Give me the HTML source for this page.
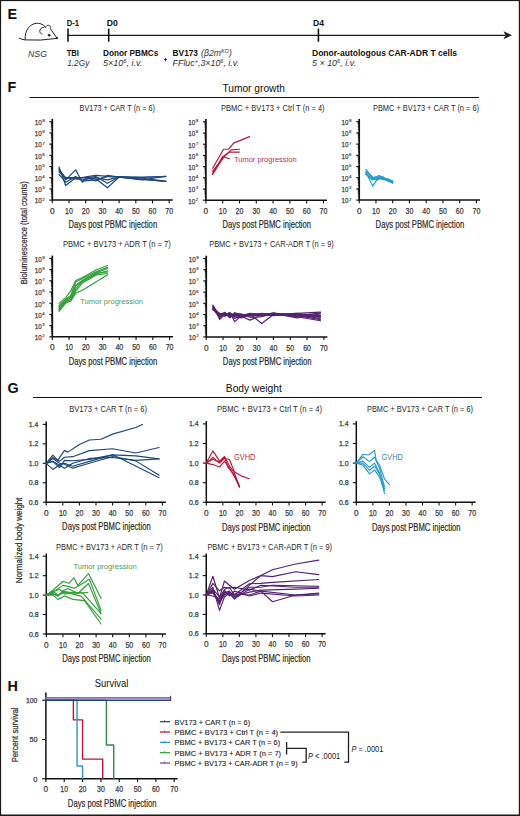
<!DOCTYPE html>
<html><head><meta charset="utf-8"><style>
html,body{margin:0;padding:0;background:#fff;width:520px;height:816px;overflow:hidden}
svg{display:block}
text{font-family:"Liberation Sans", sans-serif}
.tk{stroke:#3a3a3a;stroke-width:0.25px}
.at{stroke:#2a2a2a;stroke-width:0.2px}
.tk2{stroke:#3a3a3a;stroke-width:0.15px}
.lg{stroke:#222;stroke-width:0.12px}
</style></head><body>
<svg width="520" height="816" viewBox="0 0 520 816">
<rect width="520" height="816" fill="#fff"/>
<rect x="0" y="0" width="520" height="1.1" fill="#1a1a1a"/><rect x="0" y="0" width="1.1" height="816" fill="#1a1a1a"/><rect x="518.8" y="0" width="1.2" height="816" fill="#1a1a1a"/><rect x="0" y="814.5" width="520" height="1.5" fill="#1a1a1a"/>
<text x="7.60" y="18.90" font-size="14.4" font-weight="bold" fill="#111">E</text>
<g fill="none" stroke="#222" stroke-width="1" stroke-linecap="round" stroke-linejoin="round"><path d="M19.3,38.2 Q22,39.6 25,39.9 Q40,41 56.8,38.4"/><path d="M25.2,39.3 C24.5,31 29.5,24 36.2,23.3 C39.5,23 42.5,24 45,26.5"/><path d="M44,27.2 C41,27.3 39.6,29.5 39.8,31.5 C40,33 41,33.8 42,34"/><path d="M45.6,27.6 C46,25.8 47.5,25 48.6,25.3 C50,25.6 50.6,27 50.3,28.6 L56.8,37.8"/></g><circle cx="49.1" cy="35.3" r="1.3" fill="#222"/><circle cx="56.9" cy="38.1" r="1.15" fill="#222"/>
<text x="28.00" y="57.20" font-size="9.2" font-style="italic" fill="#333" textLength="19" lengthAdjust="spacingAndGlyphs">NSG</text>
<line x1="68.00" y1="35.30" x2="505.00" y2="35.30" stroke="#1a1a1a" stroke-width="1.35"/>
<path d="M503.5,31.2 L512,35.2 L503.5,39.2 L505.5,35.2 Z" fill="#222"/>
<line x1="68.00" y1="28.60" x2="68.00" y2="41.70" stroke="#111" stroke-width="1.6"/>
<line x1="108.70" y1="28.60" x2="108.70" y2="41.70" stroke="#111" stroke-width="1.6"/>
<line x1="318.40" y1="28.60" x2="318.40" y2="41.70" stroke="#111" stroke-width="1.6"/>
<text x="66.70" y="26.30" font-size="8.3" font-weight="bold" fill="#111" textLength="12.3" lengthAdjust="spacingAndGlyphs">D-1</text>
<text x="106.70" y="26.30" font-size="8.3" font-weight="bold" fill="#111" textLength="11" lengthAdjust="spacingAndGlyphs">D0</text>
<text x="313.00" y="26.30" font-size="8.3" font-weight="bold" fill="#111" textLength="11" lengthAdjust="spacingAndGlyphs">D4</text>
<text x="66.70" y="55.80" font-size="8.3" font-weight="bold" fill="#111" textLength="12.3" lengthAdjust="spacingAndGlyphs">TBI</text>
<text x="67.20" y="66.30" font-size="8.6" font-style="italic" fill="#333" textLength="22.2" lengthAdjust="spacingAndGlyphs">1.2Gy</text>
<text x="103.00" y="56.00" font-size="8.3" font-weight="bold" fill="#111" textLength="55.4" lengthAdjust="spacingAndGlyphs">Donor PBMCs</text>
<text x="103.00" y="66.40" font-size="8.6" font-style="italic" fill="#333" textLength="39.4" lengthAdjust="spacingAndGlyphs">5×10<tspan font-size="5.5" dy="-3">6</tspan><tspan dy="3">, i.v.</tspan></text>
<path d="M163.9,59.6 H167.1 M165.5,58 V61.2" stroke="#222" stroke-width="0.9"/>
<text x="172.60" y="56.00" font-size="8.3" font-weight="bold" fill="#111" textLength="25.4" lengthAdjust="spacingAndGlyphs">BV173</text>
<text x="201.00" y="56.00" font-size="8.6" font-style="italic" fill="#333" textLength="31" lengthAdjust="spacingAndGlyphs">(β2m<tspan font-size="5.5" dy="-3">KO</tspan><tspan dy="3">)</tspan></text>
<text x="172.60" y="66.40" font-size="8.6" font-style="italic" fill="#333" textLength="66.4" lengthAdjust="spacingAndGlyphs">FFluc<tspan font-size="5.5" dy="-3">+</tspan><tspan dy="3">,3×10</tspan><tspan font-size="5.5" dy="-3">6</tspan><tspan dy="3">, i.v.</tspan></text>
<text x="312.00" y="56.00" font-size="8.3" font-weight="bold" fill="#111" textLength="145" lengthAdjust="spacingAndGlyphs">Donor-autologous CAR-ADR T cells</text>
<text x="312.00" y="66.40" font-size="8.6" font-style="italic" fill="#333" textLength="44" lengthAdjust="spacingAndGlyphs">5 × 10<tspan font-size="5.5" dy="-3">6</tspan><tspan dy="3">, i.v.</tspan></text>
<text x="7.60" y="91.50" font-size="14.4" font-weight="bold" fill="#111">F</text>
<text x="222.40" y="91.60" font-size="10.6" fill="#111" textLength="62.6" lengthAdjust="spacingAndGlyphs">Tumor growth</text>
<line x1="29.50" y1="97.50" x2="479.00" y2="97.50" stroke="#111" stroke-width="1.2"/>
<text x="7.60" y="392.80" font-size="14.4" font-weight="bold" fill="#111">G</text>
<text x="225.80" y="392.00" font-size="10.6" fill="#111" textLength="56" lengthAdjust="spacingAndGlyphs">Body weight</text>
<line x1="32.90" y1="397.50" x2="482.00" y2="397.50" stroke="#111" stroke-width="1.2"/>
<text x="7.60" y="690.80" font-size="14.4" font-weight="bold" fill="#111">H</text>
<text x="94.80" y="686.60" font-size="10.6" fill="#111" textLength="33.6" lengthAdjust="spacingAndGlyphs">Survival</text>
<line x1="52.30" y1="118.90" x2="52.30" y2="200.60" stroke="#111" stroke-width="1.7"/>
<line x1="50.90" y1="196.73" x2="52.30" y2="196.73" stroke="#111" stroke-width="0.7"/>
<line x1="50.90" y1="194.76" x2="52.30" y2="194.76" stroke="#111" stroke-width="0.7"/>
<line x1="50.90" y1="193.36" x2="52.30" y2="193.36" stroke="#111" stroke-width="0.7"/>
<line x1="50.90" y1="192.27" x2="52.30" y2="192.27" stroke="#111" stroke-width="0.7"/>
<line x1="50.90" y1="191.38" x2="52.30" y2="191.38" stroke="#111" stroke-width="0.7"/>
<line x1="50.90" y1="190.63" x2="52.30" y2="190.63" stroke="#111" stroke-width="0.7"/>
<line x1="50.90" y1="189.99" x2="52.30" y2="189.99" stroke="#111" stroke-width="0.7"/>
<line x1="50.90" y1="189.41" x2="52.30" y2="189.41" stroke="#111" stroke-width="0.7"/>
<line x1="50.90" y1="185.53" x2="52.30" y2="185.53" stroke="#111" stroke-width="0.7"/>
<line x1="50.90" y1="183.56" x2="52.30" y2="183.56" stroke="#111" stroke-width="0.7"/>
<line x1="50.90" y1="182.16" x2="52.30" y2="182.16" stroke="#111" stroke-width="0.7"/>
<line x1="50.90" y1="181.07" x2="52.30" y2="181.07" stroke="#111" stroke-width="0.7"/>
<line x1="50.90" y1="180.18" x2="52.30" y2="180.18" stroke="#111" stroke-width="0.7"/>
<line x1="50.90" y1="179.43" x2="52.30" y2="179.43" stroke="#111" stroke-width="0.7"/>
<line x1="50.90" y1="178.79" x2="52.30" y2="178.79" stroke="#111" stroke-width="0.7"/>
<line x1="50.90" y1="178.21" x2="52.30" y2="178.21" stroke="#111" stroke-width="0.7"/>
<line x1="50.90" y1="174.33" x2="52.30" y2="174.33" stroke="#111" stroke-width="0.7"/>
<line x1="50.90" y1="172.36" x2="52.30" y2="172.36" stroke="#111" stroke-width="0.7"/>
<line x1="50.90" y1="170.96" x2="52.30" y2="170.96" stroke="#111" stroke-width="0.7"/>
<line x1="50.90" y1="169.87" x2="52.30" y2="169.87" stroke="#111" stroke-width="0.7"/>
<line x1="50.90" y1="168.98" x2="52.30" y2="168.98" stroke="#111" stroke-width="0.7"/>
<line x1="50.90" y1="168.23" x2="52.30" y2="168.23" stroke="#111" stroke-width="0.7"/>
<line x1="50.90" y1="167.59" x2="52.30" y2="167.59" stroke="#111" stroke-width="0.7"/>
<line x1="50.90" y1="167.01" x2="52.30" y2="167.01" stroke="#111" stroke-width="0.7"/>
<line x1="50.90" y1="163.13" x2="52.30" y2="163.13" stroke="#111" stroke-width="0.7"/>
<line x1="50.90" y1="161.16" x2="52.30" y2="161.16" stroke="#111" stroke-width="0.7"/>
<line x1="50.90" y1="159.76" x2="52.30" y2="159.76" stroke="#111" stroke-width="0.7"/>
<line x1="50.90" y1="158.67" x2="52.30" y2="158.67" stroke="#111" stroke-width="0.7"/>
<line x1="50.90" y1="157.78" x2="52.30" y2="157.78" stroke="#111" stroke-width="0.7"/>
<line x1="50.90" y1="157.03" x2="52.30" y2="157.03" stroke="#111" stroke-width="0.7"/>
<line x1="50.90" y1="156.39" x2="52.30" y2="156.39" stroke="#111" stroke-width="0.7"/>
<line x1="50.90" y1="155.81" x2="52.30" y2="155.81" stroke="#111" stroke-width="0.7"/>
<line x1="50.90" y1="151.93" x2="52.30" y2="151.93" stroke="#111" stroke-width="0.7"/>
<line x1="50.90" y1="149.96" x2="52.30" y2="149.96" stroke="#111" stroke-width="0.7"/>
<line x1="50.90" y1="148.56" x2="52.30" y2="148.56" stroke="#111" stroke-width="0.7"/>
<line x1="50.90" y1="147.47" x2="52.30" y2="147.47" stroke="#111" stroke-width="0.7"/>
<line x1="50.90" y1="146.58" x2="52.30" y2="146.58" stroke="#111" stroke-width="0.7"/>
<line x1="50.90" y1="145.83" x2="52.30" y2="145.83" stroke="#111" stroke-width="0.7"/>
<line x1="50.90" y1="145.19" x2="52.30" y2="145.19" stroke="#111" stroke-width="0.7"/>
<line x1="50.90" y1="144.61" x2="52.30" y2="144.61" stroke="#111" stroke-width="0.7"/>
<line x1="50.90" y1="140.73" x2="52.30" y2="140.73" stroke="#111" stroke-width="0.7"/>
<line x1="50.90" y1="138.76" x2="52.30" y2="138.76" stroke="#111" stroke-width="0.7"/>
<line x1="50.90" y1="137.36" x2="52.30" y2="137.36" stroke="#111" stroke-width="0.7"/>
<line x1="50.90" y1="136.27" x2="52.30" y2="136.27" stroke="#111" stroke-width="0.7"/>
<line x1="50.90" y1="135.38" x2="52.30" y2="135.38" stroke="#111" stroke-width="0.7"/>
<line x1="50.90" y1="134.63" x2="52.30" y2="134.63" stroke="#111" stroke-width="0.7"/>
<line x1="50.90" y1="133.99" x2="52.30" y2="133.99" stroke="#111" stroke-width="0.7"/>
<line x1="50.90" y1="133.41" x2="52.30" y2="133.41" stroke="#111" stroke-width="0.7"/>
<line x1="50.90" y1="129.53" x2="52.30" y2="129.53" stroke="#111" stroke-width="0.7"/>
<line x1="50.90" y1="127.56" x2="52.30" y2="127.56" stroke="#111" stroke-width="0.7"/>
<line x1="50.90" y1="126.16" x2="52.30" y2="126.16" stroke="#111" stroke-width="0.7"/>
<line x1="50.90" y1="125.07" x2="52.30" y2="125.07" stroke="#111" stroke-width="0.7"/>
<line x1="50.90" y1="124.18" x2="52.30" y2="124.18" stroke="#111" stroke-width="0.7"/>
<line x1="50.90" y1="123.43" x2="52.30" y2="123.43" stroke="#111" stroke-width="0.7"/>
<line x1="50.90" y1="122.79" x2="52.30" y2="122.79" stroke="#111" stroke-width="0.7"/>
<line x1="50.90" y1="122.21" x2="52.30" y2="122.21" stroke="#111" stroke-width="0.7"/>
<line x1="49.30" y1="200.10" x2="52.30" y2="200.10" stroke="#111" stroke-width="1.1"/>
<text x="34.70" y="203.40" font-size="7.8" fill="#3a3a3a" textLength="7.0" lengthAdjust="spacingAndGlyphs" class="tk">10</text>
<text x="42.20" y="200.50" font-size="4.4" fill="#3a3a3a" class="tk2">2</text>
<line x1="49.30" y1="188.90" x2="52.30" y2="188.90" stroke="#111" stroke-width="1.1"/>
<text x="34.70" y="192.20" font-size="7.8" fill="#3a3a3a" textLength="7.0" lengthAdjust="spacingAndGlyphs" class="tk">10</text>
<text x="42.20" y="189.30" font-size="4.4" fill="#3a3a3a" class="tk2">3</text>
<line x1="49.30" y1="177.70" x2="52.30" y2="177.70" stroke="#111" stroke-width="1.1"/>
<text x="34.70" y="181.00" font-size="7.8" fill="#3a3a3a" textLength="7.0" lengthAdjust="spacingAndGlyphs" class="tk">10</text>
<text x="42.20" y="178.10" font-size="4.4" fill="#3a3a3a" class="tk2">4</text>
<line x1="49.30" y1="166.50" x2="52.30" y2="166.50" stroke="#111" stroke-width="1.1"/>
<text x="34.70" y="169.80" font-size="7.8" fill="#3a3a3a" textLength="7.0" lengthAdjust="spacingAndGlyphs" class="tk">10</text>
<text x="42.20" y="166.90" font-size="4.4" fill="#3a3a3a" class="tk2">5</text>
<line x1="49.30" y1="155.30" x2="52.30" y2="155.30" stroke="#111" stroke-width="1.1"/>
<text x="34.70" y="158.60" font-size="7.8" fill="#3a3a3a" textLength="7.0" lengthAdjust="spacingAndGlyphs" class="tk">10</text>
<text x="42.20" y="155.70" font-size="4.4" fill="#3a3a3a" class="tk2">6</text>
<line x1="49.30" y1="144.10" x2="52.30" y2="144.10" stroke="#111" stroke-width="1.1"/>
<text x="34.70" y="147.40" font-size="7.8" fill="#3a3a3a" textLength="7.0" lengthAdjust="spacingAndGlyphs" class="tk">10</text>
<text x="42.20" y="144.50" font-size="4.4" fill="#3a3a3a" class="tk2">7</text>
<line x1="49.30" y1="132.90" x2="52.30" y2="132.90" stroke="#111" stroke-width="1.1"/>
<text x="34.70" y="136.20" font-size="7.8" fill="#3a3a3a" textLength="7.0" lengthAdjust="spacingAndGlyphs" class="tk">10</text>
<text x="42.20" y="133.30" font-size="4.4" fill="#3a3a3a" class="tk2">8</text>
<line x1="49.30" y1="121.70" x2="52.30" y2="121.70" stroke="#111" stroke-width="1.1"/>
<text x="34.70" y="125.00" font-size="7.8" fill="#3a3a3a" textLength="7.0" lengthAdjust="spacingAndGlyphs" class="tk">10</text>
<text x="42.20" y="122.10" font-size="4.4" fill="#3a3a3a" class="tk2">9</text>
<line x1="51.80" y1="200.10" x2="172.70" y2="200.10" stroke="#111" stroke-width="1.5"/>
<line x1="52.30" y1="200.10" x2="52.30" y2="203.30" stroke="#111" stroke-width="1.1"/>
<text x="52.30" y="213.70" font-size="8.8" text-anchor="middle" fill="#3a3a3a" textLength="4.6" lengthAdjust="spacingAndGlyphs" class="tk">0</text>
<line x1="69.00" y1="200.10" x2="69.00" y2="203.30" stroke="#111" stroke-width="1.1"/>
<text x="69.00" y="213.70" font-size="8.8" text-anchor="middle" fill="#3a3a3a" textLength="7.8" lengthAdjust="spacingAndGlyphs" class="tk">10</text>
<line x1="85.70" y1="200.10" x2="85.70" y2="203.30" stroke="#111" stroke-width="1.1"/>
<text x="85.70" y="213.70" font-size="8.8" text-anchor="middle" fill="#3a3a3a" textLength="7.8" lengthAdjust="spacingAndGlyphs" class="tk">20</text>
<line x1="102.40" y1="200.10" x2="102.40" y2="203.30" stroke="#111" stroke-width="1.1"/>
<text x="102.40" y="213.70" font-size="8.8" text-anchor="middle" fill="#3a3a3a" textLength="7.8" lengthAdjust="spacingAndGlyphs" class="tk">30</text>
<line x1="119.10" y1="200.10" x2="119.10" y2="203.30" stroke="#111" stroke-width="1.1"/>
<text x="119.10" y="213.70" font-size="8.8" text-anchor="middle" fill="#3a3a3a" textLength="7.8" lengthAdjust="spacingAndGlyphs" class="tk">40</text>
<line x1="135.80" y1="200.10" x2="135.80" y2="203.30" stroke="#111" stroke-width="1.1"/>
<text x="135.80" y="213.70" font-size="8.8" text-anchor="middle" fill="#3a3a3a" textLength="7.8" lengthAdjust="spacingAndGlyphs" class="tk">50</text>
<line x1="152.50" y1="200.10" x2="152.50" y2="203.30" stroke="#111" stroke-width="1.1"/>
<text x="152.50" y="213.70" font-size="8.8" text-anchor="middle" fill="#3a3a3a" textLength="7.8" lengthAdjust="spacingAndGlyphs" class="tk">60</text>
<line x1="169.20" y1="200.10" x2="169.20" y2="203.30" stroke="#111" stroke-width="1.1"/>
<text x="169.20" y="213.70" font-size="8.8" text-anchor="middle" fill="#3a3a3a" textLength="7.8" lengthAdjust="spacingAndGlyphs" class="tk">70</text>
<text x="68.55" y="228.30" font-size="10.7" fill="#2a2a2a" textLength="88.6" lengthAdjust="spacingAndGlyphs" class="at">Days post PBMC injection</text>
<text x="79.60" y="110.50" font-size="8.3" fill="#2a2a2a" textLength="75.4" lengthAdjust="spacingAndGlyphs">BV173 + CAR T (n = 6)</text>
<polyline points="58.98,167.06 65.66,185.54 75.68,177.70 82.36,177.70 95.72,178.82 107.41,187.78 119.10,177.14 142.48,179.94 165.86,176.24" fill="none" stroke="#1f477a" stroke-width="1.2" stroke-linejoin="round" stroke-linecap="round"/>
<polyline points="58.98,168.74 65.66,179.94 75.68,169.86 82.36,182.18 87.37,177.70 95.72,181.06 107.41,175.46 119.10,177.14 165.86,181.51" fill="none" stroke="#1f477a" stroke-width="1.2" stroke-linejoin="round" stroke-linecap="round"/>
<polyline points="58.98,172.10 65.66,177.70 75.68,177.70 87.37,177.70 95.72,176.58 107.41,183.30 119.10,176.92 142.48,179.38 165.86,181.51" fill="none" stroke="#1f477a" stroke-width="1.2" stroke-linejoin="round" stroke-linecap="round"/>
<polyline points="58.98,170.98 65.66,178.82 70.67,177.70 82.36,179.94 95.72,177.70 107.41,179.94 119.10,176.92 142.48,177.48 165.86,176.24" fill="none" stroke="#1f477a" stroke-width="1.2" stroke-linejoin="round" stroke-linecap="round"/>
<polyline points="58.98,174.34 65.66,182.18 75.68,176.58 82.36,181.06 95.72,179.94 107.41,176.58 119.10,176.58 142.48,178.26 165.86,181.06" fill="none" stroke="#1f477a" stroke-width="1.2" stroke-linejoin="round" stroke-linecap="round"/>
<polyline points="58.98,169.86 65.66,177.70 75.68,178.82 87.37,176.58 95.72,175.46 119.10,177.14 142.48,177.14 165.86,176.58" fill="none" stroke="#1f477a" stroke-width="1.2" stroke-linejoin="round" stroke-linecap="round"/>
<line x1="205.90" y1="119.00" x2="205.90" y2="200.70" stroke="#111" stroke-width="1.7"/>
<line x1="204.50" y1="196.83" x2="205.90" y2="196.83" stroke="#111" stroke-width="0.7"/>
<line x1="204.50" y1="194.86" x2="205.90" y2="194.86" stroke="#111" stroke-width="0.7"/>
<line x1="204.50" y1="193.46" x2="205.90" y2="193.46" stroke="#111" stroke-width="0.7"/>
<line x1="204.50" y1="192.37" x2="205.90" y2="192.37" stroke="#111" stroke-width="0.7"/>
<line x1="204.50" y1="191.48" x2="205.90" y2="191.48" stroke="#111" stroke-width="0.7"/>
<line x1="204.50" y1="190.73" x2="205.90" y2="190.73" stroke="#111" stroke-width="0.7"/>
<line x1="204.50" y1="190.09" x2="205.90" y2="190.09" stroke="#111" stroke-width="0.7"/>
<line x1="204.50" y1="189.51" x2="205.90" y2="189.51" stroke="#111" stroke-width="0.7"/>
<line x1="204.50" y1="185.63" x2="205.90" y2="185.63" stroke="#111" stroke-width="0.7"/>
<line x1="204.50" y1="183.66" x2="205.90" y2="183.66" stroke="#111" stroke-width="0.7"/>
<line x1="204.50" y1="182.26" x2="205.90" y2="182.26" stroke="#111" stroke-width="0.7"/>
<line x1="204.50" y1="181.17" x2="205.90" y2="181.17" stroke="#111" stroke-width="0.7"/>
<line x1="204.50" y1="180.28" x2="205.90" y2="180.28" stroke="#111" stroke-width="0.7"/>
<line x1="204.50" y1="179.53" x2="205.90" y2="179.53" stroke="#111" stroke-width="0.7"/>
<line x1="204.50" y1="178.89" x2="205.90" y2="178.89" stroke="#111" stroke-width="0.7"/>
<line x1="204.50" y1="178.31" x2="205.90" y2="178.31" stroke="#111" stroke-width="0.7"/>
<line x1="204.50" y1="174.43" x2="205.90" y2="174.43" stroke="#111" stroke-width="0.7"/>
<line x1="204.50" y1="172.46" x2="205.90" y2="172.46" stroke="#111" stroke-width="0.7"/>
<line x1="204.50" y1="171.06" x2="205.90" y2="171.06" stroke="#111" stroke-width="0.7"/>
<line x1="204.50" y1="169.97" x2="205.90" y2="169.97" stroke="#111" stroke-width="0.7"/>
<line x1="204.50" y1="169.08" x2="205.90" y2="169.08" stroke="#111" stroke-width="0.7"/>
<line x1="204.50" y1="168.33" x2="205.90" y2="168.33" stroke="#111" stroke-width="0.7"/>
<line x1="204.50" y1="167.69" x2="205.90" y2="167.69" stroke="#111" stroke-width="0.7"/>
<line x1="204.50" y1="167.11" x2="205.90" y2="167.11" stroke="#111" stroke-width="0.7"/>
<line x1="204.50" y1="163.23" x2="205.90" y2="163.23" stroke="#111" stroke-width="0.7"/>
<line x1="204.50" y1="161.26" x2="205.90" y2="161.26" stroke="#111" stroke-width="0.7"/>
<line x1="204.50" y1="159.86" x2="205.90" y2="159.86" stroke="#111" stroke-width="0.7"/>
<line x1="204.50" y1="158.77" x2="205.90" y2="158.77" stroke="#111" stroke-width="0.7"/>
<line x1="204.50" y1="157.88" x2="205.90" y2="157.88" stroke="#111" stroke-width="0.7"/>
<line x1="204.50" y1="157.13" x2="205.90" y2="157.13" stroke="#111" stroke-width="0.7"/>
<line x1="204.50" y1="156.49" x2="205.90" y2="156.49" stroke="#111" stroke-width="0.7"/>
<line x1="204.50" y1="155.91" x2="205.90" y2="155.91" stroke="#111" stroke-width="0.7"/>
<line x1="204.50" y1="152.03" x2="205.90" y2="152.03" stroke="#111" stroke-width="0.7"/>
<line x1="204.50" y1="150.06" x2="205.90" y2="150.06" stroke="#111" stroke-width="0.7"/>
<line x1="204.50" y1="148.66" x2="205.90" y2="148.66" stroke="#111" stroke-width="0.7"/>
<line x1="204.50" y1="147.57" x2="205.90" y2="147.57" stroke="#111" stroke-width="0.7"/>
<line x1="204.50" y1="146.68" x2="205.90" y2="146.68" stroke="#111" stroke-width="0.7"/>
<line x1="204.50" y1="145.93" x2="205.90" y2="145.93" stroke="#111" stroke-width="0.7"/>
<line x1="204.50" y1="145.29" x2="205.90" y2="145.29" stroke="#111" stroke-width="0.7"/>
<line x1="204.50" y1="144.71" x2="205.90" y2="144.71" stroke="#111" stroke-width="0.7"/>
<line x1="204.50" y1="140.83" x2="205.90" y2="140.83" stroke="#111" stroke-width="0.7"/>
<line x1="204.50" y1="138.86" x2="205.90" y2="138.86" stroke="#111" stroke-width="0.7"/>
<line x1="204.50" y1="137.46" x2="205.90" y2="137.46" stroke="#111" stroke-width="0.7"/>
<line x1="204.50" y1="136.37" x2="205.90" y2="136.37" stroke="#111" stroke-width="0.7"/>
<line x1="204.50" y1="135.48" x2="205.90" y2="135.48" stroke="#111" stroke-width="0.7"/>
<line x1="204.50" y1="134.73" x2="205.90" y2="134.73" stroke="#111" stroke-width="0.7"/>
<line x1="204.50" y1="134.09" x2="205.90" y2="134.09" stroke="#111" stroke-width="0.7"/>
<line x1="204.50" y1="133.51" x2="205.90" y2="133.51" stroke="#111" stroke-width="0.7"/>
<line x1="204.50" y1="129.63" x2="205.90" y2="129.63" stroke="#111" stroke-width="0.7"/>
<line x1="204.50" y1="127.66" x2="205.90" y2="127.66" stroke="#111" stroke-width="0.7"/>
<line x1="204.50" y1="126.26" x2="205.90" y2="126.26" stroke="#111" stroke-width="0.7"/>
<line x1="204.50" y1="125.17" x2="205.90" y2="125.17" stroke="#111" stroke-width="0.7"/>
<line x1="204.50" y1="124.28" x2="205.90" y2="124.28" stroke="#111" stroke-width="0.7"/>
<line x1="204.50" y1="123.53" x2="205.90" y2="123.53" stroke="#111" stroke-width="0.7"/>
<line x1="204.50" y1="122.89" x2="205.90" y2="122.89" stroke="#111" stroke-width="0.7"/>
<line x1="204.50" y1="122.31" x2="205.90" y2="122.31" stroke="#111" stroke-width="0.7"/>
<line x1="202.90" y1="200.20" x2="205.90" y2="200.20" stroke="#111" stroke-width="1.1"/>
<text x="188.30" y="203.50" font-size="7.8" fill="#3a3a3a" textLength="7.0" lengthAdjust="spacingAndGlyphs" class="tk">10</text>
<text x="195.80" y="200.60" font-size="4.4" fill="#3a3a3a" class="tk2">2</text>
<line x1="202.90" y1="189.00" x2="205.90" y2="189.00" stroke="#111" stroke-width="1.1"/>
<text x="188.30" y="192.30" font-size="7.8" fill="#3a3a3a" textLength="7.0" lengthAdjust="spacingAndGlyphs" class="tk">10</text>
<text x="195.80" y="189.40" font-size="4.4" fill="#3a3a3a" class="tk2">3</text>
<line x1="202.90" y1="177.80" x2="205.90" y2="177.80" stroke="#111" stroke-width="1.1"/>
<text x="188.30" y="181.10" font-size="7.8" fill="#3a3a3a" textLength="7.0" lengthAdjust="spacingAndGlyphs" class="tk">10</text>
<text x="195.80" y="178.20" font-size="4.4" fill="#3a3a3a" class="tk2">4</text>
<line x1="202.90" y1="166.60" x2="205.90" y2="166.60" stroke="#111" stroke-width="1.1"/>
<text x="188.30" y="169.90" font-size="7.8" fill="#3a3a3a" textLength="7.0" lengthAdjust="spacingAndGlyphs" class="tk">10</text>
<text x="195.80" y="167.00" font-size="4.4" fill="#3a3a3a" class="tk2">5</text>
<line x1="202.90" y1="155.40" x2="205.90" y2="155.40" stroke="#111" stroke-width="1.1"/>
<text x="188.30" y="158.70" font-size="7.8" fill="#3a3a3a" textLength="7.0" lengthAdjust="spacingAndGlyphs" class="tk">10</text>
<text x="195.80" y="155.80" font-size="4.4" fill="#3a3a3a" class="tk2">6</text>
<line x1="202.90" y1="144.20" x2="205.90" y2="144.20" stroke="#111" stroke-width="1.1"/>
<text x="188.30" y="147.50" font-size="7.8" fill="#3a3a3a" textLength="7.0" lengthAdjust="spacingAndGlyphs" class="tk">10</text>
<text x="195.80" y="144.60" font-size="4.4" fill="#3a3a3a" class="tk2">7</text>
<line x1="202.90" y1="133.00" x2="205.90" y2="133.00" stroke="#111" stroke-width="1.1"/>
<text x="188.30" y="136.30" font-size="7.8" fill="#3a3a3a" textLength="7.0" lengthAdjust="spacingAndGlyphs" class="tk">10</text>
<text x="195.80" y="133.40" font-size="4.4" fill="#3a3a3a" class="tk2">8</text>
<line x1="202.90" y1="121.80" x2="205.90" y2="121.80" stroke="#111" stroke-width="1.1"/>
<text x="188.30" y="125.10" font-size="7.8" fill="#3a3a3a" textLength="7.0" lengthAdjust="spacingAndGlyphs" class="tk">10</text>
<text x="195.80" y="122.20" font-size="4.4" fill="#3a3a3a" class="tk2">9</text>
<line x1="205.40" y1="200.20" x2="327.00" y2="200.20" stroke="#111" stroke-width="1.5"/>
<line x1="205.90" y1="200.20" x2="205.90" y2="203.40" stroke="#111" stroke-width="1.1"/>
<text x="205.90" y="213.80" font-size="8.8" text-anchor="middle" fill="#3a3a3a" textLength="4.6" lengthAdjust="spacingAndGlyphs" class="tk">0</text>
<line x1="222.70" y1="200.20" x2="222.70" y2="203.40" stroke="#111" stroke-width="1.1"/>
<text x="222.70" y="213.80" font-size="8.8" text-anchor="middle" fill="#3a3a3a" textLength="7.8" lengthAdjust="spacingAndGlyphs" class="tk">10</text>
<line x1="239.50" y1="200.20" x2="239.50" y2="203.40" stroke="#111" stroke-width="1.1"/>
<text x="239.50" y="213.80" font-size="8.8" text-anchor="middle" fill="#3a3a3a" textLength="7.8" lengthAdjust="spacingAndGlyphs" class="tk">20</text>
<line x1="256.30" y1="200.20" x2="256.30" y2="203.40" stroke="#111" stroke-width="1.1"/>
<text x="256.30" y="213.80" font-size="8.8" text-anchor="middle" fill="#3a3a3a" textLength="7.8" lengthAdjust="spacingAndGlyphs" class="tk">30</text>
<line x1="273.10" y1="200.20" x2="273.10" y2="203.40" stroke="#111" stroke-width="1.1"/>
<text x="273.10" y="213.80" font-size="8.8" text-anchor="middle" fill="#3a3a3a" textLength="7.8" lengthAdjust="spacingAndGlyphs" class="tk">40</text>
<line x1="289.90" y1="200.20" x2="289.90" y2="203.40" stroke="#111" stroke-width="1.1"/>
<text x="289.90" y="213.80" font-size="8.8" text-anchor="middle" fill="#3a3a3a" textLength="7.8" lengthAdjust="spacingAndGlyphs" class="tk">50</text>
<line x1="306.70" y1="200.20" x2="306.70" y2="203.40" stroke="#111" stroke-width="1.1"/>
<text x="306.70" y="213.80" font-size="8.8" text-anchor="middle" fill="#3a3a3a" textLength="7.8" lengthAdjust="spacingAndGlyphs" class="tk">60</text>
<line x1="323.50" y1="200.20" x2="323.50" y2="203.40" stroke="#111" stroke-width="1.1"/>
<text x="323.50" y="213.80" font-size="8.8" text-anchor="middle" fill="#3a3a3a" textLength="7.8" lengthAdjust="spacingAndGlyphs" class="tk">70</text>
<text x="222.50" y="228.40" font-size="10.7" fill="#2a2a2a" textLength="88.6" lengthAdjust="spacingAndGlyphs" class="at">Days post PBMC injection</text>
<text x="221.00" y="110.50" font-size="8.3" fill="#2a2a2a" textLength="103.6" lengthAdjust="spacingAndGlyphs">PBMC + BV173 + Ctrl T (n = 4)</text>
<polyline points="212.62,168.28 223.54,149.24 228.58,149.24 233.62,143.08 249.58,136.58" fill="none" stroke="#bb173e" stroke-width="1.2" stroke-linejoin="round" stroke-linecap="round"/>
<polyline points="212.62,171.08 224.38,156.52 231.10,149.80 239.50,149.24" fill="none" stroke="#bb173e" stroke-width="1.2" stroke-linejoin="round" stroke-linecap="round"/>
<polyline points="212.62,174.44 224.38,155.40 229.42,152.04 239.50,152.04" fill="none" stroke="#bb173e" stroke-width="1.2" stroke-linejoin="round" stroke-linecap="round"/>
<polyline points="212.62,173.32 222.70,156.52 229.42,158.76" fill="none" stroke="#bb173e" stroke-width="1.2" stroke-linejoin="round" stroke-linecap="round"/>
<text x="234.00" y="161.90" font-size="8.1" fill="#b82d4e" textLength="62.6" lengthAdjust="spacingAndGlyphs">Tumor progression</text>
<line x1="359.20" y1="118.90" x2="359.20" y2="200.60" stroke="#111" stroke-width="1.7"/>
<line x1="357.80" y1="196.73" x2="359.20" y2="196.73" stroke="#111" stroke-width="0.7"/>
<line x1="357.80" y1="194.76" x2="359.20" y2="194.76" stroke="#111" stroke-width="0.7"/>
<line x1="357.80" y1="193.36" x2="359.20" y2="193.36" stroke="#111" stroke-width="0.7"/>
<line x1="357.80" y1="192.27" x2="359.20" y2="192.27" stroke="#111" stroke-width="0.7"/>
<line x1="357.80" y1="191.38" x2="359.20" y2="191.38" stroke="#111" stroke-width="0.7"/>
<line x1="357.80" y1="190.63" x2="359.20" y2="190.63" stroke="#111" stroke-width="0.7"/>
<line x1="357.80" y1="189.99" x2="359.20" y2="189.99" stroke="#111" stroke-width="0.7"/>
<line x1="357.80" y1="189.41" x2="359.20" y2="189.41" stroke="#111" stroke-width="0.7"/>
<line x1="357.80" y1="185.53" x2="359.20" y2="185.53" stroke="#111" stroke-width="0.7"/>
<line x1="357.80" y1="183.56" x2="359.20" y2="183.56" stroke="#111" stroke-width="0.7"/>
<line x1="357.80" y1="182.16" x2="359.20" y2="182.16" stroke="#111" stroke-width="0.7"/>
<line x1="357.80" y1="181.07" x2="359.20" y2="181.07" stroke="#111" stroke-width="0.7"/>
<line x1="357.80" y1="180.18" x2="359.20" y2="180.18" stroke="#111" stroke-width="0.7"/>
<line x1="357.80" y1="179.43" x2="359.20" y2="179.43" stroke="#111" stroke-width="0.7"/>
<line x1="357.80" y1="178.79" x2="359.20" y2="178.79" stroke="#111" stroke-width="0.7"/>
<line x1="357.80" y1="178.21" x2="359.20" y2="178.21" stroke="#111" stroke-width="0.7"/>
<line x1="357.80" y1="174.33" x2="359.20" y2="174.33" stroke="#111" stroke-width="0.7"/>
<line x1="357.80" y1="172.36" x2="359.20" y2="172.36" stroke="#111" stroke-width="0.7"/>
<line x1="357.80" y1="170.96" x2="359.20" y2="170.96" stroke="#111" stroke-width="0.7"/>
<line x1="357.80" y1="169.87" x2="359.20" y2="169.87" stroke="#111" stroke-width="0.7"/>
<line x1="357.80" y1="168.98" x2="359.20" y2="168.98" stroke="#111" stroke-width="0.7"/>
<line x1="357.80" y1="168.23" x2="359.20" y2="168.23" stroke="#111" stroke-width="0.7"/>
<line x1="357.80" y1="167.59" x2="359.20" y2="167.59" stroke="#111" stroke-width="0.7"/>
<line x1="357.80" y1="167.01" x2="359.20" y2="167.01" stroke="#111" stroke-width="0.7"/>
<line x1="357.80" y1="163.13" x2="359.20" y2="163.13" stroke="#111" stroke-width="0.7"/>
<line x1="357.80" y1="161.16" x2="359.20" y2="161.16" stroke="#111" stroke-width="0.7"/>
<line x1="357.80" y1="159.76" x2="359.20" y2="159.76" stroke="#111" stroke-width="0.7"/>
<line x1="357.80" y1="158.67" x2="359.20" y2="158.67" stroke="#111" stroke-width="0.7"/>
<line x1="357.80" y1="157.78" x2="359.20" y2="157.78" stroke="#111" stroke-width="0.7"/>
<line x1="357.80" y1="157.03" x2="359.20" y2="157.03" stroke="#111" stroke-width="0.7"/>
<line x1="357.80" y1="156.39" x2="359.20" y2="156.39" stroke="#111" stroke-width="0.7"/>
<line x1="357.80" y1="155.81" x2="359.20" y2="155.81" stroke="#111" stroke-width="0.7"/>
<line x1="357.80" y1="151.93" x2="359.20" y2="151.93" stroke="#111" stroke-width="0.7"/>
<line x1="357.80" y1="149.96" x2="359.20" y2="149.96" stroke="#111" stroke-width="0.7"/>
<line x1="357.80" y1="148.56" x2="359.20" y2="148.56" stroke="#111" stroke-width="0.7"/>
<line x1="357.80" y1="147.47" x2="359.20" y2="147.47" stroke="#111" stroke-width="0.7"/>
<line x1="357.80" y1="146.58" x2="359.20" y2="146.58" stroke="#111" stroke-width="0.7"/>
<line x1="357.80" y1="145.83" x2="359.20" y2="145.83" stroke="#111" stroke-width="0.7"/>
<line x1="357.80" y1="145.19" x2="359.20" y2="145.19" stroke="#111" stroke-width="0.7"/>
<line x1="357.80" y1="144.61" x2="359.20" y2="144.61" stroke="#111" stroke-width="0.7"/>
<line x1="357.80" y1="140.73" x2="359.20" y2="140.73" stroke="#111" stroke-width="0.7"/>
<line x1="357.80" y1="138.76" x2="359.20" y2="138.76" stroke="#111" stroke-width="0.7"/>
<line x1="357.80" y1="137.36" x2="359.20" y2="137.36" stroke="#111" stroke-width="0.7"/>
<line x1="357.80" y1="136.27" x2="359.20" y2="136.27" stroke="#111" stroke-width="0.7"/>
<line x1="357.80" y1="135.38" x2="359.20" y2="135.38" stroke="#111" stroke-width="0.7"/>
<line x1="357.80" y1="134.63" x2="359.20" y2="134.63" stroke="#111" stroke-width="0.7"/>
<line x1="357.80" y1="133.99" x2="359.20" y2="133.99" stroke="#111" stroke-width="0.7"/>
<line x1="357.80" y1="133.41" x2="359.20" y2="133.41" stroke="#111" stroke-width="0.7"/>
<line x1="357.80" y1="129.53" x2="359.20" y2="129.53" stroke="#111" stroke-width="0.7"/>
<line x1="357.80" y1="127.56" x2="359.20" y2="127.56" stroke="#111" stroke-width="0.7"/>
<line x1="357.80" y1="126.16" x2="359.20" y2="126.16" stroke="#111" stroke-width="0.7"/>
<line x1="357.80" y1="125.07" x2="359.20" y2="125.07" stroke="#111" stroke-width="0.7"/>
<line x1="357.80" y1="124.18" x2="359.20" y2="124.18" stroke="#111" stroke-width="0.7"/>
<line x1="357.80" y1="123.43" x2="359.20" y2="123.43" stroke="#111" stroke-width="0.7"/>
<line x1="357.80" y1="122.79" x2="359.20" y2="122.79" stroke="#111" stroke-width="0.7"/>
<line x1="357.80" y1="122.21" x2="359.20" y2="122.21" stroke="#111" stroke-width="0.7"/>
<line x1="356.20" y1="200.10" x2="359.20" y2="200.10" stroke="#111" stroke-width="1.1"/>
<text x="341.60" y="203.40" font-size="7.8" fill="#3a3a3a" textLength="7.0" lengthAdjust="spacingAndGlyphs" class="tk">10</text>
<text x="349.10" y="200.50" font-size="4.4" fill="#3a3a3a" class="tk2">2</text>
<line x1="356.20" y1="188.90" x2="359.20" y2="188.90" stroke="#111" stroke-width="1.1"/>
<text x="341.60" y="192.20" font-size="7.8" fill="#3a3a3a" textLength="7.0" lengthAdjust="spacingAndGlyphs" class="tk">10</text>
<text x="349.10" y="189.30" font-size="4.4" fill="#3a3a3a" class="tk2">3</text>
<line x1="356.20" y1="177.70" x2="359.20" y2="177.70" stroke="#111" stroke-width="1.1"/>
<text x="341.60" y="181.00" font-size="7.8" fill="#3a3a3a" textLength="7.0" lengthAdjust="spacingAndGlyphs" class="tk">10</text>
<text x="349.10" y="178.10" font-size="4.4" fill="#3a3a3a" class="tk2">4</text>
<line x1="356.20" y1="166.50" x2="359.20" y2="166.50" stroke="#111" stroke-width="1.1"/>
<text x="341.60" y="169.80" font-size="7.8" fill="#3a3a3a" textLength="7.0" lengthAdjust="spacingAndGlyphs" class="tk">10</text>
<text x="349.10" y="166.90" font-size="4.4" fill="#3a3a3a" class="tk2">5</text>
<line x1="356.20" y1="155.30" x2="359.20" y2="155.30" stroke="#111" stroke-width="1.1"/>
<text x="341.60" y="158.60" font-size="7.8" fill="#3a3a3a" textLength="7.0" lengthAdjust="spacingAndGlyphs" class="tk">10</text>
<text x="349.10" y="155.70" font-size="4.4" fill="#3a3a3a" class="tk2">6</text>
<line x1="356.20" y1="144.10" x2="359.20" y2="144.10" stroke="#111" stroke-width="1.1"/>
<text x="341.60" y="147.40" font-size="7.8" fill="#3a3a3a" textLength="7.0" lengthAdjust="spacingAndGlyphs" class="tk">10</text>
<text x="349.10" y="144.50" font-size="4.4" fill="#3a3a3a" class="tk2">7</text>
<line x1="356.20" y1="132.90" x2="359.20" y2="132.90" stroke="#111" stroke-width="1.1"/>
<text x="341.60" y="136.20" font-size="7.8" fill="#3a3a3a" textLength="7.0" lengthAdjust="spacingAndGlyphs" class="tk">10</text>
<text x="349.10" y="133.30" font-size="4.4" fill="#3a3a3a" class="tk2">8</text>
<line x1="356.20" y1="121.70" x2="359.20" y2="121.70" stroke="#111" stroke-width="1.1"/>
<text x="341.60" y="125.00" font-size="7.8" fill="#3a3a3a" textLength="7.0" lengthAdjust="spacingAndGlyphs" class="tk">10</text>
<text x="349.10" y="122.10" font-size="4.4" fill="#3a3a3a" class="tk2">9</text>
<line x1="358.70" y1="200.10" x2="479.95" y2="200.10" stroke="#111" stroke-width="1.5"/>
<line x1="359.20" y1="200.10" x2="359.20" y2="203.30" stroke="#111" stroke-width="1.1"/>
<text x="359.20" y="213.70" font-size="8.8" text-anchor="middle" fill="#3a3a3a" textLength="4.6" lengthAdjust="spacingAndGlyphs" class="tk">0</text>
<line x1="375.95" y1="200.10" x2="375.95" y2="203.30" stroke="#111" stroke-width="1.1"/>
<text x="375.95" y="213.70" font-size="8.8" text-anchor="middle" fill="#3a3a3a" textLength="7.8" lengthAdjust="spacingAndGlyphs" class="tk">10</text>
<line x1="392.70" y1="200.10" x2="392.70" y2="203.30" stroke="#111" stroke-width="1.1"/>
<text x="392.70" y="213.70" font-size="8.8" text-anchor="middle" fill="#3a3a3a" textLength="7.8" lengthAdjust="spacingAndGlyphs" class="tk">20</text>
<line x1="409.45" y1="200.10" x2="409.45" y2="203.30" stroke="#111" stroke-width="1.1"/>
<text x="409.45" y="213.70" font-size="8.8" text-anchor="middle" fill="#3a3a3a" textLength="7.8" lengthAdjust="spacingAndGlyphs" class="tk">30</text>
<line x1="426.20" y1="200.10" x2="426.20" y2="203.30" stroke="#111" stroke-width="1.1"/>
<text x="426.20" y="213.70" font-size="8.8" text-anchor="middle" fill="#3a3a3a" textLength="7.8" lengthAdjust="spacingAndGlyphs" class="tk">40</text>
<line x1="442.95" y1="200.10" x2="442.95" y2="203.30" stroke="#111" stroke-width="1.1"/>
<text x="442.95" y="213.70" font-size="8.8" text-anchor="middle" fill="#3a3a3a" textLength="7.8" lengthAdjust="spacingAndGlyphs" class="tk">50</text>
<line x1="459.70" y1="200.10" x2="459.70" y2="203.30" stroke="#111" stroke-width="1.1"/>
<text x="459.70" y="213.70" font-size="8.8" text-anchor="middle" fill="#3a3a3a" textLength="7.8" lengthAdjust="spacingAndGlyphs" class="tk">60</text>
<line x1="476.45" y1="200.10" x2="476.45" y2="203.30" stroke="#111" stroke-width="1.1"/>
<text x="476.45" y="213.70" font-size="8.8" text-anchor="middle" fill="#3a3a3a" textLength="7.8" lengthAdjust="spacingAndGlyphs" class="tk">70</text>
<text x="375.62" y="228.30" font-size="10.7" fill="#2a2a2a" textLength="88.6" lengthAdjust="spacingAndGlyphs" class="at">Days post PBMC injection</text>
<text x="373.00" y="110.50" font-size="8.3" fill="#2a2a2a" textLength="106" lengthAdjust="spacingAndGlyphs">PBMC + BV173 + CAR T (n = 6)</text>
<polyline points="365.90,169.30 372.60,177.70 379.30,175.46 382.65,177.70 387.68,179.38 392.70,182.18" fill="none" stroke="#2a9acd" stroke-width="1.2" stroke-linejoin="round" stroke-linecap="round"/>
<polyline points="365.90,172.10 372.60,186.10 377.62,178.82 382.65,177.14 387.68,179.94 392.70,181.62" fill="none" stroke="#2a9acd" stroke-width="1.2" stroke-linejoin="round" stroke-linecap="round"/>
<polyline points="365.90,173.22 372.60,178.82 379.30,176.58 382.65,178.82 387.68,179.94 392.70,182.74" fill="none" stroke="#2a9acd" stroke-width="1.2" stroke-linejoin="round" stroke-linecap="round"/>
<polyline points="365.90,174.34 372.60,179.94 377.62,178.26 382.65,179.38 387.68,180.50 392.70,183.30" fill="none" stroke="#2a9acd" stroke-width="1.2" stroke-linejoin="round" stroke-linecap="round"/>
<polyline points="365.90,171.54 372.60,177.14 377.62,179.94 382.65,176.58 387.68,181.06 392.70,182.18" fill="none" stroke="#2a9acd" stroke-width="1.2" stroke-linejoin="round" stroke-linecap="round"/>
<polyline points="365.90,173.78 372.60,179.38 379.30,177.70 382.65,178.26 387.68,178.82 392.70,181.06" fill="none" stroke="#2a9acd" stroke-width="1.2" stroke-linejoin="round" stroke-linecap="round"/>
<line x1="52.30" y1="255.60" x2="52.30" y2="337.30" stroke="#111" stroke-width="1.7"/>
<line x1="50.90" y1="333.43" x2="52.30" y2="333.43" stroke="#111" stroke-width="0.7"/>
<line x1="50.90" y1="331.46" x2="52.30" y2="331.46" stroke="#111" stroke-width="0.7"/>
<line x1="50.90" y1="330.06" x2="52.30" y2="330.06" stroke="#111" stroke-width="0.7"/>
<line x1="50.90" y1="328.97" x2="52.30" y2="328.97" stroke="#111" stroke-width="0.7"/>
<line x1="50.90" y1="328.08" x2="52.30" y2="328.08" stroke="#111" stroke-width="0.7"/>
<line x1="50.90" y1="327.33" x2="52.30" y2="327.33" stroke="#111" stroke-width="0.7"/>
<line x1="50.90" y1="326.69" x2="52.30" y2="326.69" stroke="#111" stroke-width="0.7"/>
<line x1="50.90" y1="326.11" x2="52.30" y2="326.11" stroke="#111" stroke-width="0.7"/>
<line x1="50.90" y1="322.23" x2="52.30" y2="322.23" stroke="#111" stroke-width="0.7"/>
<line x1="50.90" y1="320.26" x2="52.30" y2="320.26" stroke="#111" stroke-width="0.7"/>
<line x1="50.90" y1="318.86" x2="52.30" y2="318.86" stroke="#111" stroke-width="0.7"/>
<line x1="50.90" y1="317.77" x2="52.30" y2="317.77" stroke="#111" stroke-width="0.7"/>
<line x1="50.90" y1="316.88" x2="52.30" y2="316.88" stroke="#111" stroke-width="0.7"/>
<line x1="50.90" y1="316.13" x2="52.30" y2="316.13" stroke="#111" stroke-width="0.7"/>
<line x1="50.90" y1="315.49" x2="52.30" y2="315.49" stroke="#111" stroke-width="0.7"/>
<line x1="50.90" y1="314.91" x2="52.30" y2="314.91" stroke="#111" stroke-width="0.7"/>
<line x1="50.90" y1="311.03" x2="52.30" y2="311.03" stroke="#111" stroke-width="0.7"/>
<line x1="50.90" y1="309.06" x2="52.30" y2="309.06" stroke="#111" stroke-width="0.7"/>
<line x1="50.90" y1="307.66" x2="52.30" y2="307.66" stroke="#111" stroke-width="0.7"/>
<line x1="50.90" y1="306.57" x2="52.30" y2="306.57" stroke="#111" stroke-width="0.7"/>
<line x1="50.90" y1="305.68" x2="52.30" y2="305.68" stroke="#111" stroke-width="0.7"/>
<line x1="50.90" y1="304.93" x2="52.30" y2="304.93" stroke="#111" stroke-width="0.7"/>
<line x1="50.90" y1="304.29" x2="52.30" y2="304.29" stroke="#111" stroke-width="0.7"/>
<line x1="50.90" y1="303.71" x2="52.30" y2="303.71" stroke="#111" stroke-width="0.7"/>
<line x1="50.90" y1="299.83" x2="52.30" y2="299.83" stroke="#111" stroke-width="0.7"/>
<line x1="50.90" y1="297.86" x2="52.30" y2="297.86" stroke="#111" stroke-width="0.7"/>
<line x1="50.90" y1="296.46" x2="52.30" y2="296.46" stroke="#111" stroke-width="0.7"/>
<line x1="50.90" y1="295.37" x2="52.30" y2="295.37" stroke="#111" stroke-width="0.7"/>
<line x1="50.90" y1="294.48" x2="52.30" y2="294.48" stroke="#111" stroke-width="0.7"/>
<line x1="50.90" y1="293.73" x2="52.30" y2="293.73" stroke="#111" stroke-width="0.7"/>
<line x1="50.90" y1="293.09" x2="52.30" y2="293.09" stroke="#111" stroke-width="0.7"/>
<line x1="50.90" y1="292.51" x2="52.30" y2="292.51" stroke="#111" stroke-width="0.7"/>
<line x1="50.90" y1="288.63" x2="52.30" y2="288.63" stroke="#111" stroke-width="0.7"/>
<line x1="50.90" y1="286.66" x2="52.30" y2="286.66" stroke="#111" stroke-width="0.7"/>
<line x1="50.90" y1="285.26" x2="52.30" y2="285.26" stroke="#111" stroke-width="0.7"/>
<line x1="50.90" y1="284.17" x2="52.30" y2="284.17" stroke="#111" stroke-width="0.7"/>
<line x1="50.90" y1="283.28" x2="52.30" y2="283.28" stroke="#111" stroke-width="0.7"/>
<line x1="50.90" y1="282.53" x2="52.30" y2="282.53" stroke="#111" stroke-width="0.7"/>
<line x1="50.90" y1="281.89" x2="52.30" y2="281.89" stroke="#111" stroke-width="0.7"/>
<line x1="50.90" y1="281.31" x2="52.30" y2="281.31" stroke="#111" stroke-width="0.7"/>
<line x1="50.90" y1="277.43" x2="52.30" y2="277.43" stroke="#111" stroke-width="0.7"/>
<line x1="50.90" y1="275.46" x2="52.30" y2="275.46" stroke="#111" stroke-width="0.7"/>
<line x1="50.90" y1="274.06" x2="52.30" y2="274.06" stroke="#111" stroke-width="0.7"/>
<line x1="50.90" y1="272.97" x2="52.30" y2="272.97" stroke="#111" stroke-width="0.7"/>
<line x1="50.90" y1="272.08" x2="52.30" y2="272.08" stroke="#111" stroke-width="0.7"/>
<line x1="50.90" y1="271.33" x2="52.30" y2="271.33" stroke="#111" stroke-width="0.7"/>
<line x1="50.90" y1="270.69" x2="52.30" y2="270.69" stroke="#111" stroke-width="0.7"/>
<line x1="50.90" y1="270.11" x2="52.30" y2="270.11" stroke="#111" stroke-width="0.7"/>
<line x1="50.90" y1="266.23" x2="52.30" y2="266.23" stroke="#111" stroke-width="0.7"/>
<line x1="50.90" y1="264.26" x2="52.30" y2="264.26" stroke="#111" stroke-width="0.7"/>
<line x1="50.90" y1="262.86" x2="52.30" y2="262.86" stroke="#111" stroke-width="0.7"/>
<line x1="50.90" y1="261.77" x2="52.30" y2="261.77" stroke="#111" stroke-width="0.7"/>
<line x1="50.90" y1="260.88" x2="52.30" y2="260.88" stroke="#111" stroke-width="0.7"/>
<line x1="50.90" y1="260.13" x2="52.30" y2="260.13" stroke="#111" stroke-width="0.7"/>
<line x1="50.90" y1="259.49" x2="52.30" y2="259.49" stroke="#111" stroke-width="0.7"/>
<line x1="50.90" y1="258.91" x2="52.30" y2="258.91" stroke="#111" stroke-width="0.7"/>
<line x1="49.30" y1="336.80" x2="52.30" y2="336.80" stroke="#111" stroke-width="1.1"/>
<text x="34.70" y="340.10" font-size="7.8" fill="#3a3a3a" textLength="7.0" lengthAdjust="spacingAndGlyphs" class="tk">10</text>
<text x="42.20" y="337.20" font-size="4.4" fill="#3a3a3a" class="tk2">2</text>
<line x1="49.30" y1="325.60" x2="52.30" y2="325.60" stroke="#111" stroke-width="1.1"/>
<text x="34.70" y="328.90" font-size="7.8" fill="#3a3a3a" textLength="7.0" lengthAdjust="spacingAndGlyphs" class="tk">10</text>
<text x="42.20" y="326.00" font-size="4.4" fill="#3a3a3a" class="tk2">3</text>
<line x1="49.30" y1="314.40" x2="52.30" y2="314.40" stroke="#111" stroke-width="1.1"/>
<text x="34.70" y="317.70" font-size="7.8" fill="#3a3a3a" textLength="7.0" lengthAdjust="spacingAndGlyphs" class="tk">10</text>
<text x="42.20" y="314.80" font-size="4.4" fill="#3a3a3a" class="tk2">4</text>
<line x1="49.30" y1="303.20" x2="52.30" y2="303.20" stroke="#111" stroke-width="1.1"/>
<text x="34.70" y="306.50" font-size="7.8" fill="#3a3a3a" textLength="7.0" lengthAdjust="spacingAndGlyphs" class="tk">10</text>
<text x="42.20" y="303.60" font-size="4.4" fill="#3a3a3a" class="tk2">5</text>
<line x1="49.30" y1="292.00" x2="52.30" y2="292.00" stroke="#111" stroke-width="1.1"/>
<text x="34.70" y="295.30" font-size="7.8" fill="#3a3a3a" textLength="7.0" lengthAdjust="spacingAndGlyphs" class="tk">10</text>
<text x="42.20" y="292.40" font-size="4.4" fill="#3a3a3a" class="tk2">6</text>
<line x1="49.30" y1="280.80" x2="52.30" y2="280.80" stroke="#111" stroke-width="1.1"/>
<text x="34.70" y="284.10" font-size="7.8" fill="#3a3a3a" textLength="7.0" lengthAdjust="spacingAndGlyphs" class="tk">10</text>
<text x="42.20" y="281.20" font-size="4.4" fill="#3a3a3a" class="tk2">7</text>
<line x1="49.30" y1="269.60" x2="52.30" y2="269.60" stroke="#111" stroke-width="1.1"/>
<text x="34.70" y="272.90" font-size="7.8" fill="#3a3a3a" textLength="7.0" lengthAdjust="spacingAndGlyphs" class="tk">10</text>
<text x="42.20" y="270.00" font-size="4.4" fill="#3a3a3a" class="tk2">8</text>
<line x1="49.30" y1="258.40" x2="52.30" y2="258.40" stroke="#111" stroke-width="1.1"/>
<text x="34.70" y="261.70" font-size="7.8" fill="#3a3a3a" textLength="7.0" lengthAdjust="spacingAndGlyphs" class="tk">10</text>
<text x="42.20" y="258.80" font-size="4.4" fill="#3a3a3a" class="tk2">9</text>
<line x1="51.80" y1="336.80" x2="173.05" y2="336.80" stroke="#111" stroke-width="1.5"/>
<line x1="52.30" y1="336.80" x2="52.30" y2="340.00" stroke="#111" stroke-width="1.1"/>
<text x="52.30" y="350.40" font-size="8.8" text-anchor="middle" fill="#3a3a3a" textLength="4.6" lengthAdjust="spacingAndGlyphs" class="tk">0</text>
<line x1="69.05" y1="336.80" x2="69.05" y2="340.00" stroke="#111" stroke-width="1.1"/>
<text x="69.05" y="350.40" font-size="8.8" text-anchor="middle" fill="#3a3a3a" textLength="7.8" lengthAdjust="spacingAndGlyphs" class="tk">10</text>
<line x1="85.80" y1="336.80" x2="85.80" y2="340.00" stroke="#111" stroke-width="1.1"/>
<text x="85.80" y="350.40" font-size="8.8" text-anchor="middle" fill="#3a3a3a" textLength="7.8" lengthAdjust="spacingAndGlyphs" class="tk">20</text>
<line x1="102.55" y1="336.80" x2="102.55" y2="340.00" stroke="#111" stroke-width="1.1"/>
<text x="102.55" y="350.40" font-size="8.8" text-anchor="middle" fill="#3a3a3a" textLength="7.8" lengthAdjust="spacingAndGlyphs" class="tk">30</text>
<line x1="119.30" y1="336.80" x2="119.30" y2="340.00" stroke="#111" stroke-width="1.1"/>
<text x="119.30" y="350.40" font-size="8.8" text-anchor="middle" fill="#3a3a3a" textLength="7.8" lengthAdjust="spacingAndGlyphs" class="tk">40</text>
<line x1="136.05" y1="336.80" x2="136.05" y2="340.00" stroke="#111" stroke-width="1.1"/>
<text x="136.05" y="350.40" font-size="8.8" text-anchor="middle" fill="#3a3a3a" textLength="7.8" lengthAdjust="spacingAndGlyphs" class="tk">50</text>
<line x1="152.80" y1="336.80" x2="152.80" y2="340.00" stroke="#111" stroke-width="1.1"/>
<text x="152.80" y="350.40" font-size="8.8" text-anchor="middle" fill="#3a3a3a" textLength="7.8" lengthAdjust="spacingAndGlyphs" class="tk">60</text>
<line x1="169.55" y1="336.80" x2="169.55" y2="340.00" stroke="#111" stroke-width="1.1"/>
<text x="169.55" y="350.40" font-size="8.8" text-anchor="middle" fill="#3a3a3a" textLength="7.8" lengthAdjust="spacingAndGlyphs" class="tk">70</text>
<text x="68.72" y="365.00" font-size="10.7" fill="#2a2a2a" textLength="88.6" lengthAdjust="spacingAndGlyphs" class="at">Days post PBMC injection</text>
<text x="63.00" y="247.30" font-size="8.3" fill="#2a2a2a" textLength="107.8" lengthAdjust="spacingAndGlyphs">PBMC + BV173 + ADR T (n = 7)</text>
<polyline points="59.00,303.42 65.70,297.60 70.72,290.88 75.75,280.46 82.45,277.44 95.85,270.05 107.57,265.46" fill="none" stroke="#30a038" stroke-width="1.2" stroke-linejoin="round" stroke-linecap="round"/>
<polyline points="59.00,305.44 65.70,299.28 70.72,295.36 75.75,281.92 82.45,278.56 95.85,271.84 107.57,267.36" fill="none" stroke="#30a038" stroke-width="1.2" stroke-linejoin="round" stroke-linecap="round"/>
<polyline points="59.00,307.68 65.70,300.96 70.72,297.60 75.75,285.28 82.45,280.24 95.85,272.96 107.57,268.48" fill="none" stroke="#30a038" stroke-width="1.2" stroke-linejoin="round" stroke-linecap="round"/>
<polyline points="59.00,311.49 65.70,303.20 70.72,301.07 75.75,293.12 82.45,290.32 95.85,281.92 107.57,274.64" fill="none" stroke="#30a038" stroke-width="1.2" stroke-linejoin="round" stroke-linecap="round"/>
<polyline points="59.00,308.80 65.70,302.08 70.72,299.28 75.75,288.64 82.45,281.92 95.85,274.08 107.57,270.72" fill="none" stroke="#30a038" stroke-width="1.2" stroke-linejoin="round" stroke-linecap="round"/>
<polyline points="59.00,306.56 65.70,299.84 70.72,296.48 75.75,286.40 82.45,280.80 95.85,273.52 107.57,271.84" fill="none" stroke="#30a038" stroke-width="1.2" stroke-linejoin="round" stroke-linecap="round"/>
<polyline points="59.00,309.92 65.70,301.52 70.72,299.84 75.75,290.88 82.45,283.04 95.85,275.20 107.57,273.52" fill="none" stroke="#30a038" stroke-width="1.2" stroke-linejoin="round" stroke-linecap="round"/>
<text x="80.30" y="304.30" font-size="8.1" fill="#4f9a55" textLength="62.7" lengthAdjust="spacingAndGlyphs">Tumor progression</text>
<line x1="206.25" y1="255.70" x2="206.25" y2="337.40" stroke="#111" stroke-width="1.7"/>
<line x1="204.85" y1="333.53" x2="206.25" y2="333.53" stroke="#111" stroke-width="0.7"/>
<line x1="204.85" y1="331.56" x2="206.25" y2="331.56" stroke="#111" stroke-width="0.7"/>
<line x1="204.85" y1="330.16" x2="206.25" y2="330.16" stroke="#111" stroke-width="0.7"/>
<line x1="204.85" y1="329.07" x2="206.25" y2="329.07" stroke="#111" stroke-width="0.7"/>
<line x1="204.85" y1="328.18" x2="206.25" y2="328.18" stroke="#111" stroke-width="0.7"/>
<line x1="204.85" y1="327.43" x2="206.25" y2="327.43" stroke="#111" stroke-width="0.7"/>
<line x1="204.85" y1="326.79" x2="206.25" y2="326.79" stroke="#111" stroke-width="0.7"/>
<line x1="204.85" y1="326.21" x2="206.25" y2="326.21" stroke="#111" stroke-width="0.7"/>
<line x1="204.85" y1="322.33" x2="206.25" y2="322.33" stroke="#111" stroke-width="0.7"/>
<line x1="204.85" y1="320.36" x2="206.25" y2="320.36" stroke="#111" stroke-width="0.7"/>
<line x1="204.85" y1="318.96" x2="206.25" y2="318.96" stroke="#111" stroke-width="0.7"/>
<line x1="204.85" y1="317.87" x2="206.25" y2="317.87" stroke="#111" stroke-width="0.7"/>
<line x1="204.85" y1="316.98" x2="206.25" y2="316.98" stroke="#111" stroke-width="0.7"/>
<line x1="204.85" y1="316.23" x2="206.25" y2="316.23" stroke="#111" stroke-width="0.7"/>
<line x1="204.85" y1="315.59" x2="206.25" y2="315.59" stroke="#111" stroke-width="0.7"/>
<line x1="204.85" y1="315.01" x2="206.25" y2="315.01" stroke="#111" stroke-width="0.7"/>
<line x1="204.85" y1="311.13" x2="206.25" y2="311.13" stroke="#111" stroke-width="0.7"/>
<line x1="204.85" y1="309.16" x2="206.25" y2="309.16" stroke="#111" stroke-width="0.7"/>
<line x1="204.85" y1="307.76" x2="206.25" y2="307.76" stroke="#111" stroke-width="0.7"/>
<line x1="204.85" y1="306.67" x2="206.25" y2="306.67" stroke="#111" stroke-width="0.7"/>
<line x1="204.85" y1="305.78" x2="206.25" y2="305.78" stroke="#111" stroke-width="0.7"/>
<line x1="204.85" y1="305.03" x2="206.25" y2="305.03" stroke="#111" stroke-width="0.7"/>
<line x1="204.85" y1="304.39" x2="206.25" y2="304.39" stroke="#111" stroke-width="0.7"/>
<line x1="204.85" y1="303.81" x2="206.25" y2="303.81" stroke="#111" stroke-width="0.7"/>
<line x1="204.85" y1="299.93" x2="206.25" y2="299.93" stroke="#111" stroke-width="0.7"/>
<line x1="204.85" y1="297.96" x2="206.25" y2="297.96" stroke="#111" stroke-width="0.7"/>
<line x1="204.85" y1="296.56" x2="206.25" y2="296.56" stroke="#111" stroke-width="0.7"/>
<line x1="204.85" y1="295.47" x2="206.25" y2="295.47" stroke="#111" stroke-width="0.7"/>
<line x1="204.85" y1="294.58" x2="206.25" y2="294.58" stroke="#111" stroke-width="0.7"/>
<line x1="204.85" y1="293.83" x2="206.25" y2="293.83" stroke="#111" stroke-width="0.7"/>
<line x1="204.85" y1="293.19" x2="206.25" y2="293.19" stroke="#111" stroke-width="0.7"/>
<line x1="204.85" y1="292.61" x2="206.25" y2="292.61" stroke="#111" stroke-width="0.7"/>
<line x1="204.85" y1="288.73" x2="206.25" y2="288.73" stroke="#111" stroke-width="0.7"/>
<line x1="204.85" y1="286.76" x2="206.25" y2="286.76" stroke="#111" stroke-width="0.7"/>
<line x1="204.85" y1="285.36" x2="206.25" y2="285.36" stroke="#111" stroke-width="0.7"/>
<line x1="204.85" y1="284.27" x2="206.25" y2="284.27" stroke="#111" stroke-width="0.7"/>
<line x1="204.85" y1="283.38" x2="206.25" y2="283.38" stroke="#111" stroke-width="0.7"/>
<line x1="204.85" y1="282.63" x2="206.25" y2="282.63" stroke="#111" stroke-width="0.7"/>
<line x1="204.85" y1="281.99" x2="206.25" y2="281.99" stroke="#111" stroke-width="0.7"/>
<line x1="204.85" y1="281.41" x2="206.25" y2="281.41" stroke="#111" stroke-width="0.7"/>
<line x1="204.85" y1="277.53" x2="206.25" y2="277.53" stroke="#111" stroke-width="0.7"/>
<line x1="204.85" y1="275.56" x2="206.25" y2="275.56" stroke="#111" stroke-width="0.7"/>
<line x1="204.85" y1="274.16" x2="206.25" y2="274.16" stroke="#111" stroke-width="0.7"/>
<line x1="204.85" y1="273.07" x2="206.25" y2="273.07" stroke="#111" stroke-width="0.7"/>
<line x1="204.85" y1="272.18" x2="206.25" y2="272.18" stroke="#111" stroke-width="0.7"/>
<line x1="204.85" y1="271.43" x2="206.25" y2="271.43" stroke="#111" stroke-width="0.7"/>
<line x1="204.85" y1="270.79" x2="206.25" y2="270.79" stroke="#111" stroke-width="0.7"/>
<line x1="204.85" y1="270.21" x2="206.25" y2="270.21" stroke="#111" stroke-width="0.7"/>
<line x1="204.85" y1="266.33" x2="206.25" y2="266.33" stroke="#111" stroke-width="0.7"/>
<line x1="204.85" y1="264.36" x2="206.25" y2="264.36" stroke="#111" stroke-width="0.7"/>
<line x1="204.85" y1="262.96" x2="206.25" y2="262.96" stroke="#111" stroke-width="0.7"/>
<line x1="204.85" y1="261.87" x2="206.25" y2="261.87" stroke="#111" stroke-width="0.7"/>
<line x1="204.85" y1="260.98" x2="206.25" y2="260.98" stroke="#111" stroke-width="0.7"/>
<line x1="204.85" y1="260.23" x2="206.25" y2="260.23" stroke="#111" stroke-width="0.7"/>
<line x1="204.85" y1="259.59" x2="206.25" y2="259.59" stroke="#111" stroke-width="0.7"/>
<line x1="204.85" y1="259.01" x2="206.25" y2="259.01" stroke="#111" stroke-width="0.7"/>
<line x1="203.25" y1="336.90" x2="206.25" y2="336.90" stroke="#111" stroke-width="1.1"/>
<text x="188.65" y="340.20" font-size="7.8" fill="#3a3a3a" textLength="7.0" lengthAdjust="spacingAndGlyphs" class="tk">10</text>
<text x="196.15" y="337.30" font-size="4.4" fill="#3a3a3a" class="tk2">2</text>
<line x1="203.25" y1="325.70" x2="206.25" y2="325.70" stroke="#111" stroke-width="1.1"/>
<text x="188.65" y="329.00" font-size="7.8" fill="#3a3a3a" textLength="7.0" lengthAdjust="spacingAndGlyphs" class="tk">10</text>
<text x="196.15" y="326.10" font-size="4.4" fill="#3a3a3a" class="tk2">3</text>
<line x1="203.25" y1="314.50" x2="206.25" y2="314.50" stroke="#111" stroke-width="1.1"/>
<text x="188.65" y="317.80" font-size="7.8" fill="#3a3a3a" textLength="7.0" lengthAdjust="spacingAndGlyphs" class="tk">10</text>
<text x="196.15" y="314.90" font-size="4.4" fill="#3a3a3a" class="tk2">4</text>
<line x1="203.25" y1="303.30" x2="206.25" y2="303.30" stroke="#111" stroke-width="1.1"/>
<text x="188.65" y="306.60" font-size="7.8" fill="#3a3a3a" textLength="7.0" lengthAdjust="spacingAndGlyphs" class="tk">10</text>
<text x="196.15" y="303.70" font-size="4.4" fill="#3a3a3a" class="tk2">5</text>
<line x1="203.25" y1="292.10" x2="206.25" y2="292.10" stroke="#111" stroke-width="1.1"/>
<text x="188.65" y="295.40" font-size="7.8" fill="#3a3a3a" textLength="7.0" lengthAdjust="spacingAndGlyphs" class="tk">10</text>
<text x="196.15" y="292.50" font-size="4.4" fill="#3a3a3a" class="tk2">6</text>
<line x1="203.25" y1="280.90" x2="206.25" y2="280.90" stroke="#111" stroke-width="1.1"/>
<text x="188.65" y="284.20" font-size="7.8" fill="#3a3a3a" textLength="7.0" lengthAdjust="spacingAndGlyphs" class="tk">10</text>
<text x="196.15" y="281.30" font-size="4.4" fill="#3a3a3a" class="tk2">7</text>
<line x1="203.25" y1="269.70" x2="206.25" y2="269.70" stroke="#111" stroke-width="1.1"/>
<text x="188.65" y="273.00" font-size="7.8" fill="#3a3a3a" textLength="7.0" lengthAdjust="spacingAndGlyphs" class="tk">10</text>
<text x="196.15" y="270.10" font-size="4.4" fill="#3a3a3a" class="tk2">8</text>
<line x1="203.25" y1="258.50" x2="206.25" y2="258.50" stroke="#111" stroke-width="1.1"/>
<text x="188.65" y="261.80" font-size="7.8" fill="#3a3a3a" textLength="7.0" lengthAdjust="spacingAndGlyphs" class="tk">10</text>
<text x="196.15" y="258.90" font-size="4.4" fill="#3a3a3a" class="tk2">9</text>
<line x1="205.75" y1="336.90" x2="327.35" y2="336.90" stroke="#111" stroke-width="1.5"/>
<line x1="206.25" y1="336.90" x2="206.25" y2="340.10" stroke="#111" stroke-width="1.1"/>
<text x="206.25" y="350.50" font-size="8.8" text-anchor="middle" fill="#3a3a3a" textLength="4.6" lengthAdjust="spacingAndGlyphs" class="tk">0</text>
<line x1="223.05" y1="336.90" x2="223.05" y2="340.10" stroke="#111" stroke-width="1.1"/>
<text x="223.05" y="350.50" font-size="8.8" text-anchor="middle" fill="#3a3a3a" textLength="7.8" lengthAdjust="spacingAndGlyphs" class="tk">10</text>
<line x1="239.85" y1="336.90" x2="239.85" y2="340.10" stroke="#111" stroke-width="1.1"/>
<text x="239.85" y="350.50" font-size="8.8" text-anchor="middle" fill="#3a3a3a" textLength="7.8" lengthAdjust="spacingAndGlyphs" class="tk">20</text>
<line x1="256.65" y1="336.90" x2="256.65" y2="340.10" stroke="#111" stroke-width="1.1"/>
<text x="256.65" y="350.50" font-size="8.8" text-anchor="middle" fill="#3a3a3a" textLength="7.8" lengthAdjust="spacingAndGlyphs" class="tk">30</text>
<line x1="273.45" y1="336.90" x2="273.45" y2="340.10" stroke="#111" stroke-width="1.1"/>
<text x="273.45" y="350.50" font-size="8.8" text-anchor="middle" fill="#3a3a3a" textLength="7.8" lengthAdjust="spacingAndGlyphs" class="tk">40</text>
<line x1="290.25" y1="336.90" x2="290.25" y2="340.10" stroke="#111" stroke-width="1.1"/>
<text x="290.25" y="350.50" font-size="8.8" text-anchor="middle" fill="#3a3a3a" textLength="7.8" lengthAdjust="spacingAndGlyphs" class="tk">50</text>
<line x1="307.05" y1="336.90" x2="307.05" y2="340.10" stroke="#111" stroke-width="1.1"/>
<text x="307.05" y="350.50" font-size="8.8" text-anchor="middle" fill="#3a3a3a" textLength="7.8" lengthAdjust="spacingAndGlyphs" class="tk">60</text>
<line x1="323.85" y1="336.90" x2="323.85" y2="340.10" stroke="#111" stroke-width="1.1"/>
<text x="323.85" y="350.50" font-size="8.8" text-anchor="middle" fill="#3a3a3a" textLength="7.8" lengthAdjust="spacingAndGlyphs" class="tk">70</text>
<text x="222.85" y="365.10" font-size="10.7" fill="#2a2a2a" textLength="88.6" lengthAdjust="spacingAndGlyphs" class="at">Days post PBMC injection</text>
<text x="209.20" y="247.30" font-size="8.3" fill="#2a2a2a" textLength="124.6" lengthAdjust="spacingAndGlyphs">PBMC + BV173 + CAR-ADR T (n = 9)</text>
<polyline points="212.97,305.09 219.69,319.43 224.73,314.50 229.77,312.82 234.81,315.62 241.53,315.06 249.93,313.94 261.69,323.46 273.45,314.50 296.97,313.38 320.49,312.04" fill="none" stroke="#53226f" stroke-width="1.2" stroke-linejoin="round" stroke-linecap="round"/>
<polyline points="212.97,307.78 219.69,313.94 224.73,313.16 229.77,317.86 234.81,312.60 241.53,316.18 249.93,320.10 261.69,315.06 273.45,312.82 296.97,316.74 320.49,320.77" fill="none" stroke="#53226f" stroke-width="1.2" stroke-linejoin="round" stroke-linecap="round"/>
<polyline points="212.97,309.68 219.69,315.62 224.73,315.06 229.77,312.60 234.81,321.67 241.53,315.40 249.93,313.72 261.69,313.94 273.45,313.94 296.97,315.06 320.49,317.30" fill="none" stroke="#53226f" stroke-width="1.2" stroke-linejoin="round" stroke-linecap="round"/>
<polyline points="212.97,306.66 219.69,316.74 224.73,313.94 229.77,316.18 234.81,313.38 241.53,316.74 249.93,316.18 261.69,313.38 273.45,315.06 296.97,313.38 320.49,318.98" fill="none" stroke="#53226f" stroke-width="1.2" stroke-linejoin="round" stroke-linecap="round"/>
<polyline points="212.97,308.90 219.69,313.38 224.73,316.18 229.77,313.94 234.81,316.74 241.53,317.86 249.93,314.50 261.69,316.18 273.45,313.38 296.97,317.86 320.49,313.94" fill="none" stroke="#53226f" stroke-width="1.2" stroke-linejoin="round" stroke-linecap="round"/>
<polyline points="212.97,308.34 219.69,317.86 224.73,312.82 229.77,315.62 234.81,314.50 241.53,314.50 249.93,315.62 261.69,314.50 273.45,315.62 296.97,313.94 320.49,315.62" fill="none" stroke="#53226f" stroke-width="1.2" stroke-linejoin="round" stroke-linecap="round"/>
<polyline points="212.97,306.10 219.69,315.06 224.73,315.62 229.77,313.38 234.81,318.42 241.53,315.62 249.93,315.06 261.69,315.62 273.45,314.50 296.97,316.18 320.49,312.82" fill="none" stroke="#53226f" stroke-width="1.2" stroke-linejoin="round" stroke-linecap="round"/>
<polyline points="212.97,307.22 219.69,316.18 224.73,312.26 229.77,317.30 234.81,313.94 241.53,313.94 249.93,317.30 261.69,316.74 273.45,313.38 296.97,315.62 320.49,319.54" fill="none" stroke="#53226f" stroke-width="1.2" stroke-linejoin="round" stroke-linecap="round"/>
<polyline points="212.97,309.46 219.69,314.50 224.73,314.50 229.77,314.50 234.81,315.62 241.53,316.74 249.93,313.38 261.69,314.50 273.45,313.94 296.97,314.50 320.49,316.74" fill="none" stroke="#53226f" stroke-width="1.2" stroke-linejoin="round" stroke-linecap="round"/>
<text transform="translate(27.1,284.2) rotate(-90)" font-size="9.8" fill="#2a2a2a" class="at" textLength="103" lengthAdjust="spacingAndGlyphs">Bioluminescence (total counts)</text>
<text transform="translate(21.8,583.2) rotate(-90)" font-size="9.4" fill="#2a2a2a" class="at" textLength="85.7" lengthAdjust="spacingAndGlyphs">Normalized body weight</text>
<text transform="translate(18.2,762.3) rotate(-90)" font-size="8.6" fill="#2a2a2a" class="at" textLength="54.8" lengthAdjust="spacingAndGlyphs">Percent survival</text>
<line x1="46.20" y1="421.60" x2="46.20" y2="502.70" stroke="#111" stroke-width="1.5"/>
<line x1="42.70" y1="502.20" x2="46.20" y2="502.20" stroke="#111" stroke-width="1.1"/>
<text x="28.80" y="504.70" font-size="7.6" fill="#3a3a3a" textLength="9.7" lengthAdjust="spacingAndGlyphs" class="tk">0.6</text>
<line x1="42.70" y1="482.75" x2="46.20" y2="482.75" stroke="#111" stroke-width="1.1"/>
<text x="28.80" y="485.25" font-size="7.6" fill="#3a3a3a" textLength="9.7" lengthAdjust="spacingAndGlyphs" class="tk">0.8</text>
<line x1="42.70" y1="463.30" x2="46.20" y2="463.30" stroke="#111" stroke-width="1.1"/>
<text x="28.80" y="465.80" font-size="7.6" fill="#3a3a3a" textLength="9.7" lengthAdjust="spacingAndGlyphs" class="tk">1.0</text>
<line x1="42.70" y1="443.85" x2="46.20" y2="443.85" stroke="#111" stroke-width="1.1"/>
<text x="28.80" y="446.35" font-size="7.6" fill="#3a3a3a" textLength="9.7" lengthAdjust="spacingAndGlyphs" class="tk">1.2</text>
<line x1="42.70" y1="424.40" x2="46.20" y2="424.40" stroke="#111" stroke-width="1.1"/>
<text x="28.80" y="426.90" font-size="7.6" fill="#3a3a3a" textLength="9.7" lengthAdjust="spacingAndGlyphs" class="tk">1.4</text>
<line x1="45.70" y1="502.20" x2="165.90" y2="502.20" stroke="#111" stroke-width="1.5"/>
<line x1="46.20" y1="502.20" x2="46.20" y2="505.40" stroke="#111" stroke-width="1.1"/>
<text x="46.20" y="515.80" font-size="8.8" text-anchor="middle" fill="#3a3a3a" textLength="4.6" lengthAdjust="spacingAndGlyphs" class="tk">0</text>
<line x1="62.80" y1="502.20" x2="62.80" y2="505.40" stroke="#111" stroke-width="1.1"/>
<text x="62.80" y="515.80" font-size="8.8" text-anchor="middle" fill="#3a3a3a" textLength="7.8" lengthAdjust="spacingAndGlyphs" class="tk">10</text>
<line x1="79.40" y1="502.20" x2="79.40" y2="505.40" stroke="#111" stroke-width="1.1"/>
<text x="79.40" y="515.80" font-size="8.8" text-anchor="middle" fill="#3a3a3a" textLength="7.8" lengthAdjust="spacingAndGlyphs" class="tk">20</text>
<line x1="96.00" y1="502.20" x2="96.00" y2="505.40" stroke="#111" stroke-width="1.1"/>
<text x="96.00" y="515.80" font-size="8.8" text-anchor="middle" fill="#3a3a3a" textLength="7.8" lengthAdjust="spacingAndGlyphs" class="tk">30</text>
<line x1="112.60" y1="502.20" x2="112.60" y2="505.40" stroke="#111" stroke-width="1.1"/>
<text x="112.60" y="515.80" font-size="8.8" text-anchor="middle" fill="#3a3a3a" textLength="7.8" lengthAdjust="spacingAndGlyphs" class="tk">40</text>
<line x1="129.20" y1="502.20" x2="129.20" y2="505.40" stroke="#111" stroke-width="1.1"/>
<text x="129.20" y="515.80" font-size="8.8" text-anchor="middle" fill="#3a3a3a" textLength="7.8" lengthAdjust="spacingAndGlyphs" class="tk">50</text>
<line x1="145.80" y1="502.20" x2="145.80" y2="505.40" stroke="#111" stroke-width="1.1"/>
<text x="145.80" y="515.80" font-size="8.8" text-anchor="middle" fill="#3a3a3a" textLength="7.8" lengthAdjust="spacingAndGlyphs" class="tk">60</text>
<line x1="162.40" y1="502.20" x2="162.40" y2="505.40" stroke="#111" stroke-width="1.1"/>
<text x="162.40" y="515.80" font-size="8.8" text-anchor="middle" fill="#3a3a3a" textLength="7.8" lengthAdjust="spacingAndGlyphs" class="tk">70</text>
<text x="62.10" y="530.40" font-size="10.7" fill="#2a2a2a" textLength="88.6" lengthAdjust="spacingAndGlyphs" class="at">Days post PBMC injection</text>
<text x="69.20" y="411.90" font-size="8.3" fill="#2a2a2a" textLength="77.9" lengthAdjust="spacingAndGlyphs">BV173 + CAR T (n = 6)</text>
<polyline points="46.20,463.30 52.84,455.03 57.82,460.38 64.46,450.37 67.78,452.12 79.40,444.53 89.36,439.96 100.98,439.28 112.60,434.12 135.84,427.51 142.48,424.40" fill="none" stroke="#1f477a" stroke-width="1.15" stroke-linejoin="round" stroke-linecap="round"/>
<polyline points="46.20,463.30 52.84,457.46 59.48,461.35 64.46,457.27 72.76,456.69 89.36,450.66 112.60,448.71 135.84,452.99 159.08,447.45" fill="none" stroke="#1f477a" stroke-width="1.15" stroke-linejoin="round" stroke-linecap="round"/>
<polyline points="46.20,463.30 52.84,461.35 59.48,467.68 64.46,460.38 72.76,460.77 89.36,459.41 112.60,454.84 135.84,455.91 159.08,458.83" fill="none" stroke="#1f477a" stroke-width="1.15" stroke-linejoin="round" stroke-linecap="round"/>
<polyline points="46.20,463.30 52.84,469.43 59.48,464.76 64.46,463.30 72.76,466.22 89.36,461.35 112.60,454.84 122.56,459.41 159.08,477.69" fill="none" stroke="#1f477a" stroke-width="1.15" stroke-linejoin="round" stroke-linecap="round"/>
<polyline points="46.20,463.30 52.84,458.44 59.48,463.30 64.46,464.27 72.76,468.16 89.36,463.30 112.60,456.49 135.84,460.87 159.08,475.26" fill="none" stroke="#1f477a" stroke-width="1.15" stroke-linejoin="round" stroke-linecap="round"/>
<polyline points="46.20,463.30 52.84,461.35 59.48,465.25 64.46,468.16 72.76,463.30 89.36,458.44 112.60,457.46 135.84,460.38 159.08,458.83" fill="none" stroke="#1f477a" stroke-width="1.15" stroke-linejoin="round" stroke-linecap="round"/>
<line x1="206.30" y1="421.10" x2="206.30" y2="502.80" stroke="#111" stroke-width="1.5"/>
<line x1="202.80" y1="502.30" x2="206.30" y2="502.30" stroke="#111" stroke-width="1.1"/>
<text x="188.90" y="504.80" font-size="7.6" fill="#3a3a3a" textLength="9.7" lengthAdjust="spacingAndGlyphs" class="tk">0.6</text>
<line x1="202.80" y1="482.70" x2="206.30" y2="482.70" stroke="#111" stroke-width="1.1"/>
<text x="188.90" y="485.20" font-size="7.6" fill="#3a3a3a" textLength="9.7" lengthAdjust="spacingAndGlyphs" class="tk">0.8</text>
<line x1="202.80" y1="463.10" x2="206.30" y2="463.10" stroke="#111" stroke-width="1.1"/>
<text x="188.90" y="465.60" font-size="7.6" fill="#3a3a3a" textLength="9.7" lengthAdjust="spacingAndGlyphs" class="tk">1.0</text>
<line x1="202.80" y1="443.50" x2="206.30" y2="443.50" stroke="#111" stroke-width="1.1"/>
<text x="188.90" y="446.00" font-size="7.6" fill="#3a3a3a" textLength="9.7" lengthAdjust="spacingAndGlyphs" class="tk">1.2</text>
<line x1="202.80" y1="423.90" x2="206.30" y2="423.90" stroke="#111" stroke-width="1.1"/>
<text x="188.90" y="426.40" font-size="7.6" fill="#3a3a3a" textLength="9.7" lengthAdjust="spacingAndGlyphs" class="tk">1.4</text>
<line x1="205.80" y1="502.30" x2="325.65" y2="502.30" stroke="#111" stroke-width="1.5"/>
<line x1="206.30" y1="502.30" x2="206.30" y2="505.50" stroke="#111" stroke-width="1.1"/>
<text x="206.30" y="515.90" font-size="8.8" text-anchor="middle" fill="#3a3a3a" textLength="4.6" lengthAdjust="spacingAndGlyphs" class="tk">0</text>
<line x1="222.85" y1="502.30" x2="222.85" y2="505.50" stroke="#111" stroke-width="1.1"/>
<text x="222.85" y="515.90" font-size="8.8" text-anchor="middle" fill="#3a3a3a" textLength="7.8" lengthAdjust="spacingAndGlyphs" class="tk">10</text>
<line x1="239.40" y1="502.30" x2="239.40" y2="505.50" stroke="#111" stroke-width="1.1"/>
<text x="239.40" y="515.90" font-size="8.8" text-anchor="middle" fill="#3a3a3a" textLength="7.8" lengthAdjust="spacingAndGlyphs" class="tk">20</text>
<line x1="255.95" y1="502.30" x2="255.95" y2="505.50" stroke="#111" stroke-width="1.1"/>
<text x="255.95" y="515.90" font-size="8.8" text-anchor="middle" fill="#3a3a3a" textLength="7.8" lengthAdjust="spacingAndGlyphs" class="tk">30</text>
<line x1="272.50" y1="502.30" x2="272.50" y2="505.50" stroke="#111" stroke-width="1.1"/>
<text x="272.50" y="515.90" font-size="8.8" text-anchor="middle" fill="#3a3a3a" textLength="7.8" lengthAdjust="spacingAndGlyphs" class="tk">40</text>
<line x1="289.05" y1="502.30" x2="289.05" y2="505.50" stroke="#111" stroke-width="1.1"/>
<text x="289.05" y="515.90" font-size="8.8" text-anchor="middle" fill="#3a3a3a" textLength="7.8" lengthAdjust="spacingAndGlyphs" class="tk">50</text>
<line x1="305.60" y1="502.30" x2="305.60" y2="505.50" stroke="#111" stroke-width="1.1"/>
<text x="305.60" y="515.90" font-size="8.8" text-anchor="middle" fill="#3a3a3a" textLength="7.8" lengthAdjust="spacingAndGlyphs" class="tk">60</text>
<line x1="322.15" y1="502.30" x2="322.15" y2="505.50" stroke="#111" stroke-width="1.1"/>
<text x="322.15" y="515.90" font-size="8.8" text-anchor="middle" fill="#3a3a3a" textLength="7.8" lengthAdjust="spacingAndGlyphs" class="tk">70</text>
<text x="222.03" y="530.50" font-size="10.7" fill="#2a2a2a" textLength="88.6" lengthAdjust="spacingAndGlyphs" class="at">Days post PBMC injection</text>
<text x="217.00" y="411.90" font-size="8.3" fill="#2a2a2a" textLength="105" lengthAdjust="spacingAndGlyphs">PBMC + BV173 + Ctrl T (n = 4)</text>
<polyline points="206.30,463.10 212.92,450.85 219.54,461.14 224.51,456.53 229.47,466.04 234.44,472.90 239.40,487.31" fill="none" stroke="#bb173e" stroke-width="1.15" stroke-linejoin="round" stroke-linecap="round"/>
<polyline points="206.30,463.10 212.92,457.51 219.54,463.10 224.51,458.20 229.47,459.47 234.44,471.92 241.06,475.84 249.33,478.78" fill="none" stroke="#bb173e" stroke-width="1.15" stroke-linejoin="round" stroke-linecap="round"/>
<polyline points="206.30,463.10 212.92,464.57 219.54,467.02 224.51,461.14 229.47,468.00 234.44,476.82 239.40,486.62" fill="none" stroke="#bb173e" stroke-width="1.15" stroke-linejoin="round" stroke-linecap="round"/>
<polyline points="206.30,463.10 212.92,459.18 219.54,462.12 224.51,457.22 227.81,467.02 234.44,474.86 239.40,485.64" fill="none" stroke="#bb173e" stroke-width="1.15" stroke-linejoin="round" stroke-linecap="round"/>
<text x="233.90" y="460.30" font-size="8.4" fill="#b82d4e" textLength="21.6" lengthAdjust="spacingAndGlyphs">GVHD</text>
<line x1="356.30" y1="421.10" x2="356.30" y2="502.80" stroke="#111" stroke-width="1.5"/>
<line x1="352.80" y1="502.30" x2="356.30" y2="502.30" stroke="#111" stroke-width="1.1"/>
<text x="338.90" y="504.80" font-size="7.6" fill="#3a3a3a" textLength="9.7" lengthAdjust="spacingAndGlyphs" class="tk">0.6</text>
<line x1="352.80" y1="482.70" x2="356.30" y2="482.70" stroke="#111" stroke-width="1.1"/>
<text x="338.90" y="485.20" font-size="7.6" fill="#3a3a3a" textLength="9.7" lengthAdjust="spacingAndGlyphs" class="tk">0.8</text>
<line x1="352.80" y1="463.10" x2="356.30" y2="463.10" stroke="#111" stroke-width="1.1"/>
<text x="338.90" y="465.60" font-size="7.6" fill="#3a3a3a" textLength="9.7" lengthAdjust="spacingAndGlyphs" class="tk">1.0</text>
<line x1="352.80" y1="443.50" x2="356.30" y2="443.50" stroke="#111" stroke-width="1.1"/>
<text x="338.90" y="446.00" font-size="7.6" fill="#3a3a3a" textLength="9.7" lengthAdjust="spacingAndGlyphs" class="tk">1.2</text>
<line x1="352.80" y1="423.90" x2="356.30" y2="423.90" stroke="#111" stroke-width="1.1"/>
<text x="338.90" y="426.40" font-size="7.6" fill="#3a3a3a" textLength="9.7" lengthAdjust="spacingAndGlyphs" class="tk">1.4</text>
<line x1="355.80" y1="502.30" x2="475.65" y2="502.30" stroke="#111" stroke-width="1.5"/>
<line x1="356.30" y1="502.30" x2="356.30" y2="505.50" stroke="#111" stroke-width="1.1"/>
<text x="356.30" y="515.90" font-size="8.8" text-anchor="middle" fill="#3a3a3a" textLength="4.6" lengthAdjust="spacingAndGlyphs" class="tk">0</text>
<line x1="372.85" y1="502.30" x2="372.85" y2="505.50" stroke="#111" stroke-width="1.1"/>
<text x="372.85" y="515.90" font-size="8.8" text-anchor="middle" fill="#3a3a3a" textLength="7.8" lengthAdjust="spacingAndGlyphs" class="tk">10</text>
<line x1="389.40" y1="502.30" x2="389.40" y2="505.50" stroke="#111" stroke-width="1.1"/>
<text x="389.40" y="515.90" font-size="8.8" text-anchor="middle" fill="#3a3a3a" textLength="7.8" lengthAdjust="spacingAndGlyphs" class="tk">20</text>
<line x1="405.95" y1="502.30" x2="405.95" y2="505.50" stroke="#111" stroke-width="1.1"/>
<text x="405.95" y="515.90" font-size="8.8" text-anchor="middle" fill="#3a3a3a" textLength="7.8" lengthAdjust="spacingAndGlyphs" class="tk">30</text>
<line x1="422.50" y1="502.30" x2="422.50" y2="505.50" stroke="#111" stroke-width="1.1"/>
<text x="422.50" y="515.90" font-size="8.8" text-anchor="middle" fill="#3a3a3a" textLength="7.8" lengthAdjust="spacingAndGlyphs" class="tk">40</text>
<line x1="439.05" y1="502.30" x2="439.05" y2="505.50" stroke="#111" stroke-width="1.1"/>
<text x="439.05" y="515.90" font-size="8.8" text-anchor="middle" fill="#3a3a3a" textLength="7.8" lengthAdjust="spacingAndGlyphs" class="tk">50</text>
<line x1="455.60" y1="502.30" x2="455.60" y2="505.50" stroke="#111" stroke-width="1.1"/>
<text x="455.60" y="515.90" font-size="8.8" text-anchor="middle" fill="#3a3a3a" textLength="7.8" lengthAdjust="spacingAndGlyphs" class="tk">60</text>
<line x1="472.15" y1="502.30" x2="472.15" y2="505.50" stroke="#111" stroke-width="1.1"/>
<text x="472.15" y="515.90" font-size="8.8" text-anchor="middle" fill="#3a3a3a" textLength="7.8" lengthAdjust="spacingAndGlyphs" class="tk">70</text>
<text x="372.03" y="530.50" font-size="10.7" fill="#2a2a2a" textLength="88.6" lengthAdjust="spacingAndGlyphs" class="at">Days post PBMC injection</text>
<text x="367.00" y="411.90" font-size="8.3" fill="#2a2a2a" textLength="106" lengthAdjust="spacingAndGlyphs">PBMC + BV173 + CAR T (n = 6)</text>
<polyline points="356.30,463.10 362.92,454.28 368.71,454.97 374.50,450.36 376.16,460.16 379.47,465.06 384.44,478.78 389.40,484.66" fill="none" stroke="#2a9acd" stroke-width="1.15" stroke-linejoin="round" stroke-linecap="round"/>
<polyline points="356.30,463.10 362.92,456.73 369.54,461.63 374.50,457.22 379.47,468.00 384.44,486.62" fill="none" stroke="#2a9acd" stroke-width="1.15" stroke-linejoin="round" stroke-linecap="round"/>
<polyline points="356.30,463.10 362.92,461.14 369.54,467.31 374.50,463.10 379.47,472.90 384.44,493.48" fill="none" stroke="#2a9acd" stroke-width="1.15" stroke-linejoin="round" stroke-linecap="round"/>
<polyline points="356.30,463.10 362.92,463.10 369.54,470.45 374.50,466.04 379.47,473.88 384.44,488.58" fill="none" stroke="#2a9acd" stroke-width="1.15" stroke-linejoin="round" stroke-linecap="round"/>
<polyline points="356.30,463.10 362.92,465.06 369.54,473.88 374.50,469.96 379.47,476.82 384.44,490.54" fill="none" stroke="#2a9acd" stroke-width="1.15" stroke-linejoin="round" stroke-linecap="round"/>
<text x="381.60" y="460.20" font-size="8.4" fill="#3a88ba" textLength="21.2" lengthAdjust="spacingAndGlyphs">GVHD</text>
<line x1="46.30" y1="553.40" x2="46.30" y2="634.50" stroke="#111" stroke-width="1.5"/>
<line x1="42.80" y1="634.00" x2="46.30" y2="634.00" stroke="#111" stroke-width="1.1"/>
<text x="28.90" y="636.50" font-size="7.6" fill="#3a3a3a" textLength="9.7" lengthAdjust="spacingAndGlyphs" class="tk">0.6</text>
<line x1="42.80" y1="614.55" x2="46.30" y2="614.55" stroke="#111" stroke-width="1.1"/>
<text x="28.90" y="617.05" font-size="7.6" fill="#3a3a3a" textLength="9.7" lengthAdjust="spacingAndGlyphs" class="tk">0.8</text>
<line x1="42.80" y1="595.10" x2="46.30" y2="595.10" stroke="#111" stroke-width="1.1"/>
<text x="28.90" y="597.60" font-size="7.6" fill="#3a3a3a" textLength="9.7" lengthAdjust="spacingAndGlyphs" class="tk">1.0</text>
<line x1="42.80" y1="575.65" x2="46.30" y2="575.65" stroke="#111" stroke-width="1.1"/>
<text x="28.90" y="578.15" font-size="7.6" fill="#3a3a3a" textLength="9.7" lengthAdjust="spacingAndGlyphs" class="tk">1.2</text>
<line x1="42.80" y1="556.20" x2="46.30" y2="556.20" stroke="#111" stroke-width="1.1"/>
<text x="28.90" y="558.70" font-size="7.6" fill="#3a3a3a" textLength="9.7" lengthAdjust="spacingAndGlyphs" class="tk">1.4</text>
<line x1="45.80" y1="634.00" x2="166.00" y2="634.00" stroke="#111" stroke-width="1.5"/>
<line x1="46.30" y1="634.00" x2="46.30" y2="637.20" stroke="#111" stroke-width="1.1"/>
<text x="46.30" y="647.60" font-size="8.8" text-anchor="middle" fill="#3a3a3a" textLength="4.6" lengthAdjust="spacingAndGlyphs" class="tk">0</text>
<line x1="62.90" y1="634.00" x2="62.90" y2="637.20" stroke="#111" stroke-width="1.1"/>
<text x="62.90" y="647.60" font-size="8.8" text-anchor="middle" fill="#3a3a3a" textLength="7.8" lengthAdjust="spacingAndGlyphs" class="tk">10</text>
<line x1="79.50" y1="634.00" x2="79.50" y2="637.20" stroke="#111" stroke-width="1.1"/>
<text x="79.50" y="647.60" font-size="8.8" text-anchor="middle" fill="#3a3a3a" textLength="7.8" lengthAdjust="spacingAndGlyphs" class="tk">20</text>
<line x1="96.10" y1="634.00" x2="96.10" y2="637.20" stroke="#111" stroke-width="1.1"/>
<text x="96.10" y="647.60" font-size="8.8" text-anchor="middle" fill="#3a3a3a" textLength="7.8" lengthAdjust="spacingAndGlyphs" class="tk">30</text>
<line x1="112.70" y1="634.00" x2="112.70" y2="637.20" stroke="#111" stroke-width="1.1"/>
<text x="112.70" y="647.60" font-size="8.8" text-anchor="middle" fill="#3a3a3a" textLength="7.8" lengthAdjust="spacingAndGlyphs" class="tk">40</text>
<line x1="129.30" y1="634.00" x2="129.30" y2="637.20" stroke="#111" stroke-width="1.1"/>
<text x="129.30" y="647.60" font-size="8.8" text-anchor="middle" fill="#3a3a3a" textLength="7.8" lengthAdjust="spacingAndGlyphs" class="tk">50</text>
<line x1="145.90" y1="634.00" x2="145.90" y2="637.20" stroke="#111" stroke-width="1.1"/>
<text x="145.90" y="647.60" font-size="8.8" text-anchor="middle" fill="#3a3a3a" textLength="7.8" lengthAdjust="spacingAndGlyphs" class="tk">60</text>
<line x1="162.50" y1="634.00" x2="162.50" y2="637.20" stroke="#111" stroke-width="1.1"/>
<text x="162.50" y="647.60" font-size="8.8" text-anchor="middle" fill="#3a3a3a" textLength="7.8" lengthAdjust="spacingAndGlyphs" class="tk">70</text>
<text x="62.20" y="662.20" font-size="10.7" fill="#2a2a2a" textLength="88.6" lengthAdjust="spacingAndGlyphs" class="at">Days post PBMC injection</text>
<text x="56.00" y="550.10" font-size="8.3" fill="#2a2a2a" textLength="106.7" lengthAdjust="spacingAndGlyphs">PBMC + BV173 + ADR T (n = 7)</text>
<polyline points="46.30,595.10 52.94,590.24 62.90,581.49 69.21,583.24 73.86,577.79 77.84,585.38 88.46,573.51 101.08,598.31" fill="none" stroke="#30a038" stroke-width="1.15" stroke-linejoin="round" stroke-linecap="round"/>
<polyline points="46.30,595.10 52.94,592.18 62.90,585.38 67.88,586.35 74.52,588.29 89.46,579.25 101.08,610.37" fill="none" stroke="#30a038" stroke-width="1.15" stroke-linejoin="round" stroke-linecap="round"/>
<polyline points="46.30,595.10 52.94,593.15 57.92,596.07 62.90,590.82 67.88,588.49 77.84,593.54 88.46,583.53 101.08,613.58" fill="none" stroke="#30a038" stroke-width="1.15" stroke-linejoin="round" stroke-linecap="round"/>
<polyline points="46.30,595.10 52.94,594.13 57.92,596.07 62.90,591.21 74.52,593.15 87.80,592.47" fill="none" stroke="#30a038" stroke-width="1.15" stroke-linejoin="round" stroke-linecap="round"/>
<polyline points="46.30,595.10 52.94,595.10 57.92,599.38 64.56,596.07 72.86,599.38 84.48,600.64 101.08,623.98" fill="none" stroke="#30a038" stroke-width="1.15" stroke-linejoin="round" stroke-linecap="round"/>
<polyline points="46.30,595.10 52.94,591.21 57.92,595.10 64.56,592.18 72.86,594.13 81.16,596.07 101.08,619.02" fill="none" stroke="#30a038" stroke-width="1.15" stroke-linejoin="round" stroke-linecap="round"/>
<polyline points="46.30,595.10 51.28,592.18 59.58,589.26 64.56,594.13 74.52,592.18 82.82,593.15 101.08,613.58" fill="none" stroke="#30a038" stroke-width="1.15" stroke-linejoin="round" stroke-linecap="round"/>
<text x="73.50" y="569.40" font-size="8.1" fill="#4f9a55" textLength="63.1" lengthAdjust="spacingAndGlyphs">Tumor progression</text>
<line x1="206.25" y1="553.40" x2="206.25" y2="634.30" stroke="#111" stroke-width="1.5"/>
<line x1="202.75" y1="633.80" x2="206.25" y2="633.80" stroke="#111" stroke-width="1.1"/>
<text x="188.85" y="636.30" font-size="7.6" fill="#3a3a3a" textLength="9.7" lengthAdjust="spacingAndGlyphs" class="tk">0.6</text>
<line x1="202.75" y1="614.40" x2="206.25" y2="614.40" stroke="#111" stroke-width="1.1"/>
<text x="188.85" y="616.90" font-size="7.6" fill="#3a3a3a" textLength="9.7" lengthAdjust="spacingAndGlyphs" class="tk">0.8</text>
<line x1="202.75" y1="595.00" x2="206.25" y2="595.00" stroke="#111" stroke-width="1.1"/>
<text x="188.85" y="597.50" font-size="7.6" fill="#3a3a3a" textLength="9.7" lengthAdjust="spacingAndGlyphs" class="tk">1.0</text>
<line x1="202.75" y1="575.60" x2="206.25" y2="575.60" stroke="#111" stroke-width="1.1"/>
<text x="188.85" y="578.10" font-size="7.6" fill="#3a3a3a" textLength="9.7" lengthAdjust="spacingAndGlyphs" class="tk">1.2</text>
<line x1="202.75" y1="556.20" x2="206.25" y2="556.20" stroke="#111" stroke-width="1.1"/>
<text x="188.85" y="558.70" font-size="7.6" fill="#3a3a3a" textLength="9.7" lengthAdjust="spacingAndGlyphs" class="tk">1.4</text>
<line x1="205.75" y1="633.80" x2="325.60" y2="633.80" stroke="#111" stroke-width="1.5"/>
<line x1="206.25" y1="633.80" x2="206.25" y2="637.00" stroke="#111" stroke-width="1.1"/>
<text x="206.25" y="647.40" font-size="8.8" text-anchor="middle" fill="#3a3a3a" textLength="4.6" lengthAdjust="spacingAndGlyphs" class="tk">0</text>
<line x1="222.80" y1="633.80" x2="222.80" y2="637.00" stroke="#111" stroke-width="1.1"/>
<text x="222.80" y="647.40" font-size="8.8" text-anchor="middle" fill="#3a3a3a" textLength="7.8" lengthAdjust="spacingAndGlyphs" class="tk">10</text>
<line x1="239.35" y1="633.80" x2="239.35" y2="637.00" stroke="#111" stroke-width="1.1"/>
<text x="239.35" y="647.40" font-size="8.8" text-anchor="middle" fill="#3a3a3a" textLength="7.8" lengthAdjust="spacingAndGlyphs" class="tk">20</text>
<line x1="255.90" y1="633.80" x2="255.90" y2="637.00" stroke="#111" stroke-width="1.1"/>
<text x="255.90" y="647.40" font-size="8.8" text-anchor="middle" fill="#3a3a3a" textLength="7.8" lengthAdjust="spacingAndGlyphs" class="tk">30</text>
<line x1="272.45" y1="633.80" x2="272.45" y2="637.00" stroke="#111" stroke-width="1.1"/>
<text x="272.45" y="647.40" font-size="8.8" text-anchor="middle" fill="#3a3a3a" textLength="7.8" lengthAdjust="spacingAndGlyphs" class="tk">40</text>
<line x1="289.00" y1="633.80" x2="289.00" y2="637.00" stroke="#111" stroke-width="1.1"/>
<text x="289.00" y="647.40" font-size="8.8" text-anchor="middle" fill="#3a3a3a" textLength="7.8" lengthAdjust="spacingAndGlyphs" class="tk">50</text>
<line x1="305.55" y1="633.80" x2="305.55" y2="637.00" stroke="#111" stroke-width="1.1"/>
<text x="305.55" y="647.40" font-size="8.8" text-anchor="middle" fill="#3a3a3a" textLength="7.8" lengthAdjust="spacingAndGlyphs" class="tk">60</text>
<line x1="322.10" y1="633.80" x2="322.10" y2="637.00" stroke="#111" stroke-width="1.1"/>
<text x="322.10" y="647.40" font-size="8.8" text-anchor="middle" fill="#3a3a3a" textLength="7.8" lengthAdjust="spacingAndGlyphs" class="tk">70</text>
<text x="221.98" y="662.00" font-size="10.7" fill="#2a2a2a" textLength="88.6" lengthAdjust="spacingAndGlyphs" class="at">Days post PBMC injection</text>
<text x="207.40" y="550.10" font-size="8.3" fill="#2a2a2a" textLength="124.6" lengthAdjust="spacingAndGlyphs">PBMC + BV173 + CAR-ADR T (n = 9)</text>
<polyline points="206.25,595.00 212.87,576.28 219.49,597.91 224.46,581.03 229.42,585.30 234.38,589.18 249.28,580.45 260.87,575.60 272.45,569.78 295.62,563.96 318.79,560.08" fill="none" stroke="#53226f" stroke-width="1.15" stroke-linejoin="round" stroke-linecap="round"/>
<polyline points="206.25,595.00 212.87,587.24 219.49,610.42 224.46,596.94 229.42,593.06 234.38,598.88 249.28,585.30 260.87,575.60 272.45,576.57 295.62,571.72 318.79,574.63" fill="none" stroke="#53226f" stroke-width="1.15" stroke-linejoin="round" stroke-linecap="round"/>
<polyline points="206.25,595.00 212.87,590.15 219.49,604.70 224.46,589.18 229.42,587.24 234.38,595.00 249.28,583.75 260.87,583.36 272.45,582.39 318.79,579.48" fill="none" stroke="#53226f" stroke-width="1.15" stroke-linejoin="round" stroke-linecap="round"/>
<polyline points="206.25,595.00 212.87,593.06 219.49,601.79 224.46,593.06 229.42,591.12 234.38,596.94 249.28,587.24 260.87,587.24 272.45,585.30 318.79,586.27" fill="none" stroke="#53226f" stroke-width="1.15" stroke-linejoin="round" stroke-linecap="round"/>
<polyline points="206.25,595.00 212.87,583.36 219.49,590.83 224.46,587.24 229.42,588.21 234.38,587.24 249.28,590.15 260.87,585.30 295.62,587.24 318.79,587.24" fill="none" stroke="#53226f" stroke-width="1.15" stroke-linejoin="round" stroke-linecap="round"/>
<polyline points="206.25,595.00 212.87,591.12 219.49,602.76 224.46,595.00 229.42,592.09 234.38,595.97 249.28,592.09 260.87,590.15 295.62,589.18 318.79,588.21" fill="none" stroke="#53226f" stroke-width="1.15" stroke-linejoin="round" stroke-linecap="round"/>
<polyline points="206.25,595.00 212.87,595.97 219.49,598.88 224.46,592.09 229.42,595.00 234.38,594.03 249.28,595.00 260.87,591.12 295.62,595.00 318.79,593.06" fill="none" stroke="#53226f" stroke-width="1.15" stroke-linejoin="round" stroke-linecap="round"/>
<polyline points="206.25,595.00 212.87,589.18 219.49,596.94 224.46,590.15 229.42,595.97 234.38,591.12 249.28,595.97 260.87,593.06 295.62,595.97 318.79,595.00" fill="none" stroke="#53226f" stroke-width="1.15" stroke-linejoin="round" stroke-linecap="round"/>
<polyline points="206.25,595.00 212.87,592.09 219.49,600.82 224.46,594.03 229.42,593.06 234.38,598.88 249.28,589.18 260.87,591.12 272.45,601.79 295.62,595.00 318.79,594.03" fill="none" stroke="#53226f" stroke-width="1.15" stroke-linejoin="round" stroke-linecap="round"/>
<line x1="45.90" y1="692.50" x2="45.90" y2="779.30" stroke="#111" stroke-width="1.5"/>
<line x1="42.10" y1="778.80" x2="45.90" y2="778.80" stroke="#111" stroke-width="1.1"/>
<text x="33.20" y="781.50" font-size="7.6" fill="#3a3a3a" textLength="4.2" lengthAdjust="spacingAndGlyphs" class="tk">0</text>
<line x1="42.10" y1="739.50" x2="45.90" y2="739.50" stroke="#111" stroke-width="1.1"/>
<text x="29.40" y="742.20" font-size="7.6" fill="#3a3a3a" textLength="8" lengthAdjust="spacingAndGlyphs" class="tk">50</text>
<line x1="42.10" y1="700.20" x2="45.90" y2="700.20" stroke="#111" stroke-width="1.1"/>
<text x="25.90" y="702.90" font-size="7.6" fill="#3a3a3a" textLength="11.5" lengthAdjust="spacingAndGlyphs" class="tk">100</text>
<line x1="45.40" y1="778.80" x2="177.71" y2="778.80" stroke="#111" stroke-width="1.5"/>
<line x1="45.90" y1="778.80" x2="45.90" y2="782.00" stroke="#111" stroke-width="1.1"/>
<text x="45.90" y="792.40" font-size="8.8" text-anchor="middle" fill="#3a3a3a" textLength="4.6" lengthAdjust="spacingAndGlyphs" class="tk">0</text>
<line x1="64.23" y1="778.80" x2="64.23" y2="782.00" stroke="#111" stroke-width="1.1"/>
<text x="64.23" y="792.40" font-size="8.8" text-anchor="middle" fill="#3a3a3a" textLength="7.8" lengthAdjust="spacingAndGlyphs" class="tk">10</text>
<line x1="82.56" y1="778.80" x2="82.56" y2="782.00" stroke="#111" stroke-width="1.1"/>
<text x="82.56" y="792.40" font-size="8.8" text-anchor="middle" fill="#3a3a3a" textLength="7.8" lengthAdjust="spacingAndGlyphs" class="tk">20</text>
<line x1="100.89" y1="778.80" x2="100.89" y2="782.00" stroke="#111" stroke-width="1.1"/>
<text x="100.89" y="792.40" font-size="8.8" text-anchor="middle" fill="#3a3a3a" textLength="7.8" lengthAdjust="spacingAndGlyphs" class="tk">30</text>
<line x1="119.22" y1="778.80" x2="119.22" y2="782.00" stroke="#111" stroke-width="1.1"/>
<text x="119.22" y="792.40" font-size="8.8" text-anchor="middle" fill="#3a3a3a" textLength="7.8" lengthAdjust="spacingAndGlyphs" class="tk">40</text>
<line x1="137.55" y1="778.80" x2="137.55" y2="782.00" stroke="#111" stroke-width="1.1"/>
<text x="137.55" y="792.40" font-size="8.8" text-anchor="middle" fill="#3a3a3a" textLength="7.8" lengthAdjust="spacingAndGlyphs" class="tk">50</text>
<line x1="155.88" y1="778.80" x2="155.88" y2="782.00" stroke="#111" stroke-width="1.1"/>
<text x="155.88" y="792.40" font-size="8.8" text-anchor="middle" fill="#3a3a3a" textLength="7.8" lengthAdjust="spacingAndGlyphs" class="tk">60</text>
<line x1="174.21" y1="778.80" x2="174.21" y2="782.00" stroke="#111" stroke-width="1.1"/>
<text x="174.21" y="792.40" font-size="8.8" text-anchor="middle" fill="#3a3a3a" textLength="7.8" lengthAdjust="spacingAndGlyphs" class="tk">70</text>
<text x="67.86" y="807.00" font-size="10.7" fill="#2a2a2a" textLength="88.6" lengthAdjust="spacingAndGlyphs" class="at">Days post PBMC injection</text>
<polyline points="45.90,700.20 73.39,700.20 73.39,719.85 82.56,719.85 82.56,759.15 102.72,759.15 102.72,778.80" fill="none" stroke="#bb173e" stroke-width="1.4" stroke-linejoin="round" stroke-linecap="round" stroke-linejoin="miter" stroke-linecap="butt"/>
<polyline points="45.90,700.20 77.06,700.20 77.06,765.99 82.56,765.99 82.56,778.80" fill="none" stroke="#3592cc" stroke-width="1.4" stroke-linejoin="round" stroke-linecap="round" stroke-linejoin="miter" stroke-linecap="butt"/>
<polyline points="45.90,700.20 106.39,700.20 106.39,745.00 113.72,745.00 113.72,778.80" fill="none" stroke="#2e8c48" stroke-width="1.4" stroke-linejoin="round" stroke-linecap="round" stroke-linejoin="miter" stroke-linecap="butt"/>
<polyline points="45.90,700.20 170.54,700.20" fill="none" stroke="#1f477a" stroke-width="1.5" stroke-linejoin="round" stroke-linecap="round"/>
<polyline points="45.90,697.80 170.54,697.80" fill="none" stroke="#8a6cae" stroke-width="1.7" stroke-linejoin="round" stroke-linecap="round"/>
<line x1="170.54" y1="695.80" x2="170.54" y2="701.00" stroke="#5b3a80" stroke-width="1.1"/>
<line x1="159.90" y1="721.70" x2="170.00" y2="721.70" stroke="#1f477a" stroke-width="1.25"/>
<line x1="164.60" y1="720.20" x2="164.60" y2="721.70" stroke="#1f477a" stroke-width="0.8"/>
<text x="174.60" y="724.60" font-size="8.0" fill="#222" textLength="75.5" lengthAdjust="spacingAndGlyphs" class="lg">BV173 + CAR T (n = 6)</text>
<line x1="159.90" y1="732.03" x2="170.00" y2="732.03" stroke="#bb173e" stroke-width="1.25"/>
<line x1="164.60" y1="730.53" x2="164.60" y2="732.03" stroke="#bb173e" stroke-width="0.8"/>
<text x="174.60" y="734.93" font-size="8.0" fill="#222" textLength="103.5" lengthAdjust="spacingAndGlyphs" class="lg">PBMC + BV173 + Ctrl T (n = 4)</text>
<line x1="159.90" y1="742.36" x2="170.00" y2="742.36" stroke="#2a9acd" stroke-width="1.25"/>
<line x1="164.60" y1="740.86" x2="164.60" y2="742.36" stroke="#2a9acd" stroke-width="0.8"/>
<text x="174.60" y="745.26" font-size="8.0" fill="#222" textLength="105.5" lengthAdjust="spacingAndGlyphs" class="lg">PBMC + BV173 + CAR T (n = 6)</text>
<line x1="159.90" y1="752.69" x2="170.00" y2="752.69" stroke="#30a038" stroke-width="1.25"/>
<line x1="164.60" y1="751.19" x2="164.60" y2="752.69" stroke="#30a038" stroke-width="0.8"/>
<text x="174.60" y="755.59" font-size="8.0" fill="#222" textLength="106.5" lengthAdjust="spacingAndGlyphs" class="lg">PBMC + BV173 + ADR T (n = 7)</text>
<line x1="159.90" y1="763.02" x2="170.00" y2="763.02" stroke="#6b4d8a" stroke-width="1.25"/>
<line x1="164.60" y1="761.52" x2="164.60" y2="763.02" stroke="#6b4d8a" stroke-width="0.8"/>
<text x="174.60" y="765.92" font-size="8.0" fill="#222" textLength="123" lengthAdjust="spacingAndGlyphs" class="lg">PBMC + BV173 + CAR-ADR T (n = 9)</text>
<path d="M280.4,732.2 H348.5 V762.2 H344.3" fill="none" stroke="#222" stroke-width="1.3"/>
<path d="M286.6,742 V754.6 M286.6,748.3 H306.2 V762.2 H302.3" fill="none" stroke="#222" stroke-width="1.3"/>
<text x="308.00" y="758.60" font-size="8.2" fill="#222" textLength="32.3" lengthAdjust="spacingAndGlyphs"><tspan font-style="italic">P</tspan> &lt; .0001</text>
<text x="351.40" y="751.60" font-size="8.2" fill="#222" textLength="31.9" lengthAdjust="spacingAndGlyphs"><tspan font-style="italic">P</tspan> = .0001</text>
</svg>
</body></html>
